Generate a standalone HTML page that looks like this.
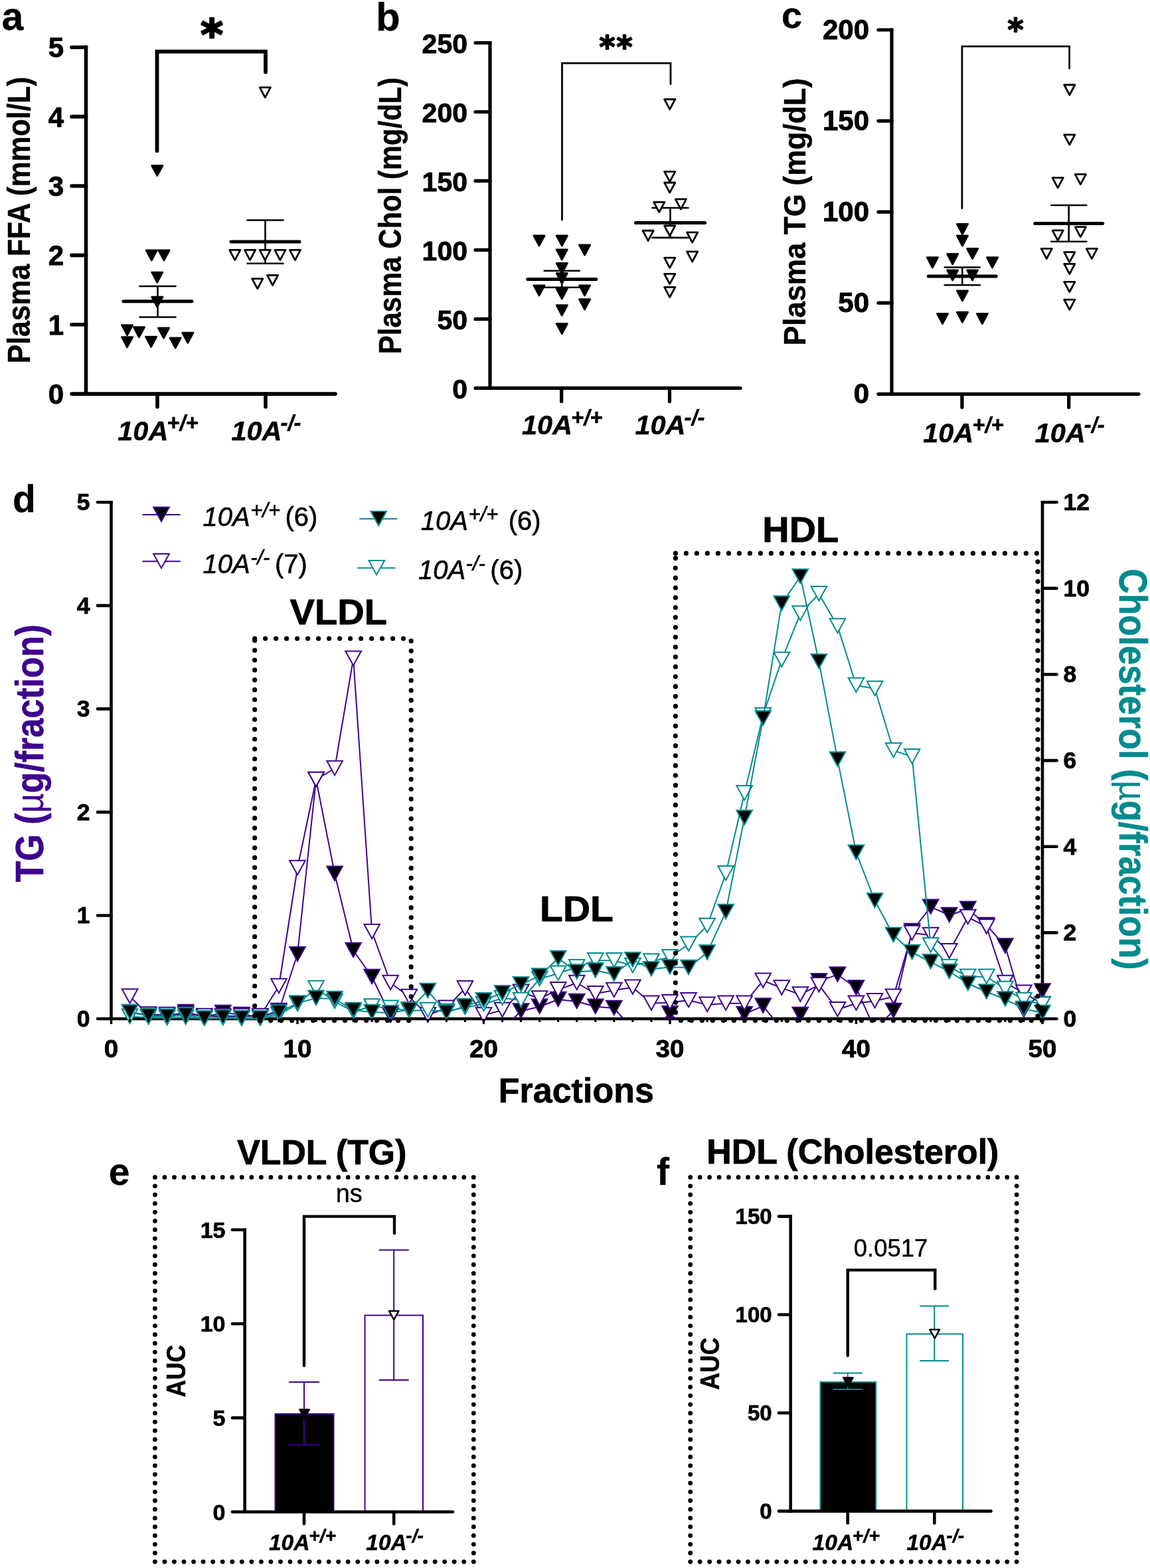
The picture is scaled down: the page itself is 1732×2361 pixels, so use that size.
<!DOCTYPE html>
<html lang="en">
<head>
<meta charset="utf-8">
<title>Figure: plasma lipids and lipoprotein fractions</title>
<style>
html,body{margin:0;padding:0;background:#fff;}
body{width:1732px;height:2361px;overflow:hidden;}
svg{display:block;font-family:"Liberation Sans",sans-serif;}
</style>
</head>
<body>
<svg width="1732" height="2361" viewBox="0 0 1732 2361">
<rect x="0" y="0" width="1732" height="2361" fill="#fff"/>
<g id="panel-a">
<line x1="129.5" y1="68.5" x2="129.5" y2="595.9" stroke="#000" stroke-width="5.6" stroke-linecap="butt" />
<line x1="108" y1="593.1" x2="505" y2="593.1" stroke="#000" stroke-width="5.6" stroke-linecap="round" />
<text x="96" y="608.14" font-size="42" font-weight="bold" font-style="normal" text-anchor="end" fill="#000" stroke="#000" stroke-width="0.9" stroke-linejoin="round" >0</text>
<line x1="108" y1="488.74" x2="129.5" y2="488.74" stroke="#000" stroke-width="5.6" stroke-linecap="round" />
<text x="96" y="503.78" font-size="42" font-weight="bold" font-style="normal" text-anchor="end" fill="#000" stroke="#000" stroke-width="0.9" stroke-linejoin="round" >1</text>
<line x1="108" y1="384.38" x2="129.5" y2="384.38" stroke="#000" stroke-width="5.6" stroke-linecap="round" />
<text x="96" y="399.42" font-size="42" font-weight="bold" font-style="normal" text-anchor="end" fill="#000" stroke="#000" stroke-width="0.9" stroke-linejoin="round" >2</text>
<line x1="108" y1="280.02" x2="129.5" y2="280.02" stroke="#000" stroke-width="5.6" stroke-linecap="round" />
<text x="96" y="295.06" font-size="42" font-weight="bold" font-style="normal" text-anchor="end" fill="#000" stroke="#000" stroke-width="0.9" stroke-linejoin="round" >3</text>
<line x1="108" y1="175.66" x2="129.5" y2="175.66" stroke="#000" stroke-width="5.6" stroke-linecap="round" />
<text x="96" y="190.7" font-size="42" font-weight="bold" font-style="normal" text-anchor="end" fill="#000" stroke="#000" stroke-width="0.9" stroke-linejoin="round" >4</text>
<line x1="108" y1="71.3" x2="129.5" y2="71.3" stroke="#000" stroke-width="5.6" stroke-linecap="round" />
<text x="96" y="86.34" font-size="42" font-weight="bold" font-style="normal" text-anchor="end" fill="#000" stroke="#000" stroke-width="0.9" stroke-linejoin="round" >5</text>
<line x1="237" y1="593.1" x2="237" y2="612.6" stroke="#000" stroke-width="5.6" stroke-linecap="round" />
<line x1="400" y1="593.1" x2="400" y2="612.6" stroke="#000" stroke-width="5.6" stroke-linecap="round" />
<text x="238" y="663" font-size="41.5" font-weight="bold" font-style="italic" text-anchor="middle" fill="#000" stroke="#000" stroke-width="0.5" stroke-linejoin="round">10A<tspan font-size="32.79" dx="-2" dy="-14.52">+/+</tspan></text>
<text x="401" y="663" font-size="41.5" font-weight="bold" font-style="italic" text-anchor="middle" fill="#000" stroke="#000" stroke-width="0.5" stroke-linejoin="round">10A<tspan font-size="32.79" dx="-2" dy="-14.52">-/-</tspan></text>
<text transform="translate(45.4 331.3) rotate(-90) scale(0.87 1)" font-size="49" font-weight="bold" font-style="normal" text-anchor="middle" fill="#000" stroke="#000" stroke-width="0.4" stroke-linejoin="round" >Plasma FFA (mmol/L)</text>
<text x="2.5" y="44.5" font-size="59" font-weight="bold" font-style="normal" text-anchor="start" fill="#000" stroke="#000" stroke-width="0.3" stroke-linejoin="round" >a</text>
<line x1="237.5" y1="431" x2="237.5" y2="477.5" stroke="#000" stroke-width="2.6" stroke-linecap="butt" />
<line x1="210.5" y1="431" x2="264.5" y2="431" stroke="#000" stroke-width="2.6" stroke-linecap="round" />
<line x1="210.5" y1="477.5" x2="264.5" y2="477.5" stroke="#000" stroke-width="2.6" stroke-linecap="round" />
<line x1="399.5" y1="331.5" x2="399.5" y2="396.7" stroke="#000" stroke-width="2.6" stroke-linecap="butt" />
<line x1="372.5" y1="331.5" x2="426.5" y2="331.5" stroke="#000" stroke-width="2.6" stroke-linecap="round" />
<line x1="372.5" y1="396.7" x2="426.5" y2="396.7" stroke="#000" stroke-width="2.6" stroke-linecap="round" />
<path d="M220.13 376.84L236.53 376.84L228.33 392.24Z" fill="#000" stroke="#000" stroke-width="2.6" stroke-linejoin="round"/>
<path d="M238.77 376.84L255.17 376.84L246.97 392.24Z" fill="#000" stroke="#000" stroke-width="2.6" stroke-linejoin="round"/>
<path d="M228.6 410.01L245 410.01L236.8 425.41Z" fill="#000" stroke="#000" stroke-width="2.6" stroke-linejoin="round"/>
<path d="M228.6 447.05L245 447.05L236.8 462.45Z" fill="#000" stroke="#000" stroke-width="2.6" stroke-linejoin="round"/>
<path d="M183.33 489.43L199.73 489.43L191.53 504.83Z" fill="#000" stroke="#000" stroke-width="2.6" stroke-linejoin="round"/>
<path d="M201.24 492.57L217.64 492.57L209.44 507.97Z" fill="#000" stroke="#000" stroke-width="2.6" stroke-linejoin="round"/>
<path d="M238.29 493.78L254.69 493.78L246.49 509.18Z" fill="#000" stroke="#000" stroke-width="2.6" stroke-linejoin="round"/>
<path d="M219.4 507.1L235.8 507.1L227.6 522.5Z" fill="#000" stroke="#000" stroke-width="2.6" stroke-linejoin="round"/>
<path d="M183.33 507.59L199.73 507.59L191.53 522.99Z" fill="#000" stroke="#000" stroke-width="2.6" stroke-linejoin="round"/>
<path d="M255.96 508.8L272.36 508.8L264.16 524.2Z" fill="#000" stroke="#000" stroke-width="2.6" stroke-linejoin="round"/>
<path d="M274.61 501.05L291.01 501.05L282.81 516.45Z" fill="#000" stroke="#000" stroke-width="2.6" stroke-linejoin="round"/>
<path d="M228.6 249.3L245 249.3L236.8 264.7Z" fill="#000" stroke="#000" stroke-width="2.6" stroke-linejoin="round"/>
<path d="M345.7 376.4L361.9 376.4L353.8 391.6Z" fill="#fff" stroke="#000" stroke-width="2.8" stroke-linejoin="round"/>
<path d="M368.4 376.4L384.6 376.4L376.5 391.6Z" fill="#fff" stroke="#000" stroke-width="2.8" stroke-linejoin="round"/>
<path d="M391.1 376.4L407.3 376.4L399.2 391.6Z" fill="#fff" stroke="#000" stroke-width="2.8" stroke-linejoin="round"/>
<path d="M413.8 376.4L430 376.4L421.9 391.6Z" fill="#fff" stroke="#000" stroke-width="2.8" stroke-linejoin="round"/>
<path d="M436.3 376.4L452.5 376.4L444.4 391.6Z" fill="#fff" stroke="#000" stroke-width="2.8" stroke-linejoin="round"/>
<path d="M379.7 419.6L395.9 419.6L387.8 434.8Z" fill="#fff" stroke="#000" stroke-width="2.8" stroke-linejoin="round"/>
<path d="M402.5 414.3L418.7 414.3L410.6 429.5Z" fill="#fff" stroke="#000" stroke-width="2.8" stroke-linejoin="round"/>
<path d="M391.2 131.7L407.4 131.7L399.3 146.9Z" fill="#fff" stroke="#000" stroke-width="2.8" stroke-linejoin="round"/>
<line x1="186" y1="453.8" x2="289" y2="453.8" stroke="#000" stroke-width="5" stroke-linecap="round" />
<line x1="348" y1="364" x2="451" y2="364" stroke="#000" stroke-width="5" stroke-linecap="round" />
<path d="M236.5 227L236.5 77.7L400 77.7L400 108.5" fill="none" stroke="#000" stroke-width="5.8" stroke-linecap="round" stroke-linejoin="miter"/>
<text x="319" y="74.5" font-size="64.5" font-weight="bold" font-style="normal" text-anchor="middle" fill="#000" stroke="#000" stroke-width="2.6" stroke-linejoin="round" font-family="'DejaVu Sans','Liberation Sans',sans-serif" letter-spacing="0">*</text>
</g>
<g id="panel-b">
<line x1="738" y1="61.9" x2="738" y2="587" stroke="#000" stroke-width="5.2" stroke-linecap="butt" />
<line x1="716" y1="584.4" x2="1115" y2="584.4" stroke="#000" stroke-width="5.2" stroke-linecap="round" />
<text x="704" y="599.88" font-size="41" font-weight="bold" font-style="normal" text-anchor="end" fill="#000" stroke="#000" stroke-width="0.9" stroke-linejoin="round" >0</text>
<line x1="716" y1="480.42" x2="738" y2="480.42" stroke="#000" stroke-width="5.2" stroke-linecap="round" />
<text x="704" y="495.9" font-size="41" font-weight="bold" font-style="normal" text-anchor="end" fill="#000" stroke="#000" stroke-width="0.9" stroke-linejoin="round" >50</text>
<line x1="716" y1="376.44" x2="738" y2="376.44" stroke="#000" stroke-width="5.2" stroke-linecap="round" />
<text x="704" y="391.92" font-size="41" font-weight="bold" font-style="normal" text-anchor="end" fill="#000" stroke="#000" stroke-width="0.9" stroke-linejoin="round" >100</text>
<line x1="716" y1="272.46" x2="738" y2="272.46" stroke="#000" stroke-width="5.2" stroke-linecap="round" />
<text x="704" y="287.94" font-size="41" font-weight="bold" font-style="normal" text-anchor="end" fill="#000" stroke="#000" stroke-width="0.9" stroke-linejoin="round" >150</text>
<line x1="716" y1="168.48" x2="738" y2="168.48" stroke="#000" stroke-width="5.2" stroke-linecap="round" />
<text x="704" y="183.96" font-size="41" font-weight="bold" font-style="normal" text-anchor="end" fill="#000" stroke="#000" stroke-width="0.9" stroke-linejoin="round" >200</text>
<line x1="716" y1="64.5" x2="738" y2="64.5" stroke="#000" stroke-width="5.2" stroke-linecap="round" />
<text x="704" y="79.98" font-size="41" font-weight="bold" font-style="normal" text-anchor="end" fill="#000" stroke="#000" stroke-width="0.9" stroke-linejoin="round" >250</text>
<line x1="845.7" y1="584.4" x2="845.7" y2="604.4" stroke="#000" stroke-width="5.2" stroke-linecap="round" />
<line x1="1008.5" y1="584.4" x2="1008.5" y2="604.4" stroke="#000" stroke-width="5.2" stroke-linecap="round" />
<text x="846.7" y="654.2" font-size="41.5" font-weight="bold" font-style="italic" text-anchor="middle" fill="#000" stroke="#000" stroke-width="0.5" stroke-linejoin="round">10A<tspan font-size="32.79" dx="-2" dy="-14.52">+/+</tspan></text>
<text x="1009" y="654.2" font-size="41.5" font-weight="bold" font-style="italic" text-anchor="middle" fill="#000" stroke="#000" stroke-width="0.5" stroke-linejoin="round">10A<tspan font-size="32.79" dx="-2" dy="-14.52">-/-</tspan></text>
<text transform="translate(603.5 324.9) rotate(-90) scale(0.88 1)" font-size="47.6" font-weight="bold" font-style="normal" text-anchor="middle" fill="#000" stroke="#000" stroke-width="0.4" stroke-linejoin="round" >Plasma Chol (mg/dL)</text>
<text x="566" y="46" font-size="60" font-weight="bold" font-style="normal" text-anchor="start" fill="#000" stroke="#000" stroke-width="0.3" stroke-linejoin="round" >b</text>
<line x1="846.2" y1="407.8" x2="846.2" y2="432.8" stroke="#000" stroke-width="2.6" stroke-linecap="butt" />
<line x1="819.7" y1="407.8" x2="872.7" y2="407.8" stroke="#000" stroke-width="2.6" stroke-linecap="round" />
<line x1="819.7" y1="432.8" x2="872.7" y2="432.8" stroke="#000" stroke-width="2.6" stroke-linecap="round" />
<line x1="1009.5" y1="313" x2="1009.5" y2="357.9" stroke="#000" stroke-width="2.6" stroke-linecap="butt" />
<line x1="982.5" y1="313" x2="1036.5" y2="313" stroke="#000" stroke-width="2.6" stroke-linecap="round" />
<line x1="982.5" y1="357.9" x2="1036.5" y2="357.9" stroke="#000" stroke-width="2.6" stroke-linecap="round" />
<path d="M803.8 354.79L820.2 354.79L812 370.19Z" fill="#000" stroke="#000" stroke-width="2.6" stroke-linejoin="round"/>
<path d="M838.08 354.79L854.48 354.79L846.28 370.19Z" fill="#000" stroke="#000" stroke-width="2.6" stroke-linejoin="round"/>
<path d="M872.37 368.77L888.77 368.77L880.57 384.17Z" fill="#000" stroke="#000" stroke-width="2.6" stroke-linejoin="round"/>
<path d="M838.08 375.76L854.48 375.76L846.28 391.16Z" fill="#000" stroke="#000" stroke-width="2.6" stroke-linejoin="round"/>
<path d="M838.08 396.4L854.48 396.4L846.28 411.8Z" fill="#000" stroke="#000" stroke-width="2.6" stroke-linejoin="round"/>
<path d="M838.08 411.38L854.48 411.38L846.28 426.78Z" fill="#000" stroke="#000" stroke-width="2.6" stroke-linejoin="round"/>
<path d="M803.8 429.69L820.2 429.69L812 445.09Z" fill="#000" stroke="#000" stroke-width="2.6" stroke-linejoin="round"/>
<path d="M838.08 434.68L854.48 434.68L846.28 450.08Z" fill="#000" stroke="#000" stroke-width="2.6" stroke-linejoin="round"/>
<path d="M872.37 429.69L888.77 429.69L880.57 445.09Z" fill="#000" stroke="#000" stroke-width="2.6" stroke-linejoin="round"/>
<path d="M872.37 450.66L888.77 450.66L880.57 466.06Z" fill="#000" stroke="#000" stroke-width="2.6" stroke-linejoin="round"/>
<path d="M838.08 459.65L854.48 459.65L846.28 475.05Z" fill="#000" stroke="#000" stroke-width="2.6" stroke-linejoin="round"/>
<path d="M838.08 487.28L854.48 487.28L846.28 502.68Z" fill="#000" stroke="#000" stroke-width="2.6" stroke-linejoin="round"/>
<path d="M1000.64 149.49L1016.84 149.49L1008.74 164.69Z" fill="#fff" stroke="#000" stroke-width="2.8" stroke-linejoin="round"/>
<path d="M1000.64 258.35L1016.84 258.35L1008.74 273.55Z" fill="#fff" stroke="#000" stroke-width="2.8" stroke-linejoin="round"/>
<path d="M1000.64 274.99L1016.84 274.99L1008.74 290.19Z" fill="#fff" stroke="#000" stroke-width="2.8" stroke-linejoin="round"/>
<path d="M984.66 304.29L1000.86 304.29L992.76 319.49Z" fill="#fff" stroke="#000" stroke-width="2.8" stroke-linejoin="round"/>
<path d="M1017.28 299.96L1033.48 299.96L1025.38 315.16Z" fill="#fff" stroke="#000" stroke-width="2.8" stroke-linejoin="round"/>
<path d="M968.01 347.23L984.21 347.23L976.11 362.43Z" fill="#fff" stroke="#000" stroke-width="2.8" stroke-linejoin="round"/>
<path d="M1000.64 339.91L1016.84 339.91L1008.74 355.11Z" fill="#fff" stroke="#000" stroke-width="2.8" stroke-linejoin="round"/>
<path d="M1034.59 349.89L1050.79 349.89L1042.69 365.09Z" fill="#fff" stroke="#000" stroke-width="2.8" stroke-linejoin="round"/>
<path d="M1034.59 378.85L1050.79 378.85L1042.69 394.05Z" fill="#fff" stroke="#000" stroke-width="2.8" stroke-linejoin="round"/>
<path d="M1000.64 388.17L1016.84 388.17L1008.74 403.37Z" fill="#fff" stroke="#000" stroke-width="2.8" stroke-linejoin="round"/>
<path d="M1000.64 412.47L1016.84 412.47L1008.74 427.67Z" fill="#fff" stroke="#000" stroke-width="2.8" stroke-linejoin="round"/>
<path d="M1000.64 432.45L1016.84 432.45L1008.74 447.65Z" fill="#fff" stroke="#000" stroke-width="2.8" stroke-linejoin="round"/>
<line x1="794.7" y1="420.6" x2="897.7" y2="420.6" stroke="#000" stroke-width="5" stroke-linecap="round" />
<line x1="957.5" y1="335.5" x2="1061.5" y2="335.5" stroke="#000" stroke-width="5" stroke-linecap="round" />
<path d="M846.5 331L846.5 95.2L1010 95.2L1010 126.5" fill="none" stroke="#000" stroke-width="2.8" stroke-linecap="round" stroke-linejoin="miter"/>
<text x="928.4" y="86.6" font-size="46" font-weight="bold" font-style="normal" text-anchor="middle" fill="#000" stroke="#000" stroke-width="1.8" stroke-linejoin="round" font-family="'DejaVu Sans','Liberation Sans',sans-serif" letter-spacing="1.8">**</text>
</g>
<g id="panel-c">
<line x1="1343" y1="42.4" x2="1343" y2="595.9" stroke="#000" stroke-width="5.2" stroke-linecap="butt" />
<line x1="1323" y1="593.3" x2="1715" y2="593.3" stroke="#000" stroke-width="5.2" stroke-linecap="round" />
<text x="1309" y="606.84" font-size="42" font-weight="bold" font-style="normal" text-anchor="end" fill="#000" stroke="#000" stroke-width="0.9" stroke-linejoin="round" >0</text>
<line x1="1323" y1="456.22" x2="1343" y2="456.22" stroke="#000" stroke-width="5.2" stroke-linecap="round" />
<text x="1309" y="469.76" font-size="42" font-weight="bold" font-style="normal" text-anchor="end" fill="#000" stroke="#000" stroke-width="0.9" stroke-linejoin="round" >50</text>
<line x1="1323" y1="319.15" x2="1343" y2="319.15" stroke="#000" stroke-width="5.2" stroke-linecap="round" />
<text x="1309" y="332.69" font-size="42" font-weight="bold" font-style="normal" text-anchor="end" fill="#000" stroke="#000" stroke-width="0.9" stroke-linejoin="round" >100</text>
<line x1="1323" y1="182.07" x2="1343" y2="182.07" stroke="#000" stroke-width="5.2" stroke-linecap="round" />
<text x="1309" y="195.61" font-size="42" font-weight="bold" font-style="normal" text-anchor="end" fill="#000" stroke="#000" stroke-width="0.9" stroke-linejoin="round" >150</text>
<line x1="1323" y1="45" x2="1343" y2="45" stroke="#000" stroke-width="5.2" stroke-linecap="round" />
<text x="1309" y="58.54" font-size="42" font-weight="bold" font-style="normal" text-anchor="end" fill="#000" stroke="#000" stroke-width="0.9" stroke-linejoin="round" >200</text>
<line x1="1448.9" y1="593.3" x2="1448.9" y2="613.3" stroke="#000" stroke-width="5.2" stroke-linecap="round" />
<line x1="1609.7" y1="593.3" x2="1609.7" y2="613.3" stroke="#000" stroke-width="5.2" stroke-linecap="round" />
<text x="1450.9" y="666" font-size="41.5" font-weight="bold" font-style="italic" text-anchor="middle" fill="#000" stroke="#000" stroke-width="0.5" stroke-linejoin="round">10A<tspan font-size="32.79" dx="-2" dy="-14.52">+/+</tspan></text>
<text x="1611.2" y="666" font-size="41.5" font-weight="bold" font-style="italic" text-anchor="middle" fill="#000" stroke="#000" stroke-width="0.5" stroke-linejoin="round">10A<tspan font-size="32.79" dx="-2" dy="-14.52">-/-</tspan></text>
<text transform="translate(1212.9 318.9) rotate(-90) scale(0.94 1)" font-size="47" font-weight="bold" font-style="normal" text-anchor="middle" fill="#000" stroke="#000" stroke-width="0.4" stroke-linejoin="round" >Plasma TG (mg/dL)</text>
<text x="1177" y="42" font-size="56" font-weight="bold" font-style="normal" text-anchor="start" fill="#000" stroke="#000" stroke-width="0.3" stroke-linejoin="round" >c</text>
<line x1="1449.3" y1="402.5" x2="1449.3" y2="429.2" stroke="#000" stroke-width="2.6" stroke-linecap="butt" />
<line x1="1422.8" y1="402.5" x2="1475.8" y2="402.5" stroke="#000" stroke-width="2.6" stroke-linecap="round" />
<line x1="1422.8" y1="429.2" x2="1475.8" y2="429.2" stroke="#000" stroke-width="2.6" stroke-linecap="round" />
<line x1="1609.7" y1="309" x2="1609.7" y2="363.8" stroke="#000" stroke-width="2.6" stroke-linecap="butt" />
<line x1="1583.2" y1="309" x2="1636.2" y2="309" stroke="#000" stroke-width="2.6" stroke-linecap="round" />
<line x1="1583.2" y1="363.8" x2="1636.2" y2="363.8" stroke="#000" stroke-width="2.6" stroke-linecap="round" />
<path d="M1441.25 337.29L1457.65 337.29L1449.45 352.69Z" fill="#000" stroke="#000" stroke-width="2.6" stroke-linejoin="round"/>
<path d="M1441.25 354.91L1457.65 354.91L1449.45 370.31Z" fill="#000" stroke="#000" stroke-width="2.6" stroke-linejoin="round"/>
<path d="M1456.4 374.28L1472.8 374.28L1464.6 389.68Z" fill="#000" stroke="#000" stroke-width="2.6" stroke-linejoin="round"/>
<path d="M1396.16 387.67L1412.56 387.67L1404.36 403.07Z" fill="#000" stroke="#000" stroke-width="2.6" stroke-linejoin="round"/>
<path d="M1426.46 382.39L1442.86 382.39L1434.66 397.79Z" fill="#000" stroke="#000" stroke-width="2.6" stroke-linejoin="round"/>
<path d="M1486.35 387.67L1502.75 387.67L1494.55 403.07Z" fill="#000" stroke="#000" stroke-width="2.6" stroke-linejoin="round"/>
<path d="M1426.46 406.69L1442.86 406.69L1434.66 422.09Z" fill="#000" stroke="#000" stroke-width="2.6" stroke-linejoin="round"/>
<path d="M1456.4 406.69L1472.8 406.69L1464.6 422.09Z" fill="#000" stroke="#000" stroke-width="2.6" stroke-linejoin="round"/>
<path d="M1441.25 437.7L1457.65 437.7L1449.45 453.1Z" fill="#000" stroke="#000" stroke-width="2.6" stroke-linejoin="round"/>
<path d="M1411.31 472.22L1427.71 472.22L1419.51 487.62Z" fill="#000" stroke="#000" stroke-width="2.6" stroke-linejoin="round"/>
<path d="M1441.25 470.11L1457.65 470.11L1449.45 485.51Z" fill="#000" stroke="#000" stroke-width="2.6" stroke-linejoin="round"/>
<path d="M1471.2 472.22L1487.6 472.22L1479.4 487.62Z" fill="#000" stroke="#000" stroke-width="2.6" stroke-linejoin="round"/>
<path d="M1602.71 127.77L1618.91 127.77L1610.81 142.97Z" fill="#fff" stroke="#000" stroke-width="2.8" stroke-linejoin="round"/>
<path d="M1602.71 202.81L1618.91 202.81L1610.81 218.01Z" fill="#fff" stroke="#000" stroke-width="2.8" stroke-linejoin="round"/>
<path d="M1585.09 267.64L1601.29 267.64L1593.19 282.84Z" fill="#fff" stroke="#000" stroke-width="2.8" stroke-linejoin="round"/>
<path d="M1619.26 262.35L1635.46 262.35L1627.36 277.55Z" fill="#fff" stroke="#000" stroke-width="2.8" stroke-linejoin="round"/>
<path d="M1585.09 346.9L1601.29 346.9L1593.19 362.1Z" fill="#fff" stroke="#000" stroke-width="2.8" stroke-linejoin="round"/>
<path d="M1619.26 341.62L1635.46 341.62L1627.36 356.82Z" fill="#fff" stroke="#000" stroke-width="2.8" stroke-linejoin="round"/>
<path d="M1568.18 374.38L1584.38 374.38L1576.28 389.58Z" fill="#fff" stroke="#000" stroke-width="2.8" stroke-linejoin="round"/>
<path d="M1602.71 379.67L1618.91 379.67L1610.81 394.87Z" fill="#fff" stroke="#000" stroke-width="2.8" stroke-linejoin="round"/>
<path d="M1636.18 374.38L1652.38 374.38L1644.28 389.58Z" fill="#fff" stroke="#000" stroke-width="2.8" stroke-linejoin="round"/>
<path d="M1602.71 397.28L1618.91 397.28L1610.81 412.48Z" fill="#fff" stroke="#000" stroke-width="2.8" stroke-linejoin="round"/>
<path d="M1602.71 424.41L1618.91 424.41L1610.81 439.61Z" fill="#fff" stroke="#000" stroke-width="2.8" stroke-linejoin="round"/>
<path d="M1602.71 451.18L1618.91 451.18L1610.81 466.38Z" fill="#fff" stroke="#000" stroke-width="2.8" stroke-linejoin="round"/>
<line x1="1398.3" y1="416" x2="1500.3" y2="416" stroke="#000" stroke-width="5" stroke-linecap="round" />
<line x1="1558.7" y1="336.4" x2="1660.7" y2="336.4" stroke="#000" stroke-width="5" stroke-linecap="round" />
<path d="M1448.9 313.5L1448.9 69.8L1610.6 69.8L1610.6 103" fill="none" stroke="#000" stroke-width="2.8" stroke-linecap="round" stroke-linejoin="miter"/>
<text x="1529.5" y="60.8" font-size="46" font-weight="bold" font-style="normal" text-anchor="middle" fill="#000" stroke="#000" stroke-width="1.8" stroke-linejoin="round" font-family="'DejaVu Sans','Liberation Sans',sans-serif" letter-spacing="0">*</text>
</g>
<g id="panel-d">
<line x1="167.5" y1="754" x2="167.5" y2="1536.3" stroke="#000" stroke-width="4.6" stroke-linecap="butt" />
<line x1="1570" y1="754" x2="1570" y2="1536.3" stroke="#000" stroke-width="4.6" stroke-linecap="butt" />
<line x1="147" y1="1534" x2="1591.5" y2="1534" stroke="#000" stroke-width="4.6" stroke-linecap="round" />
<line x1="147" y1="1378.46" x2="167.5" y2="1378.46" stroke="#000" stroke-width="4.6" stroke-linecap="round" />
<line x1="147" y1="1222.92" x2="167.5" y2="1222.92" stroke="#000" stroke-width="4.6" stroke-linecap="round" />
<line x1="147" y1="1067.38" x2="167.5" y2="1067.38" stroke="#000" stroke-width="4.6" stroke-linecap="round" />
<line x1="147" y1="911.84" x2="167.5" y2="911.84" stroke="#000" stroke-width="4.6" stroke-linecap="round" />
<line x1="147" y1="756.3" x2="167.5" y2="756.3" stroke="#000" stroke-width="4.6" stroke-linecap="round" />
<line x1="1570" y1="1404.38" x2="1591.5" y2="1404.38" stroke="#000" stroke-width="4.6" stroke-linecap="round" />
<line x1="1570" y1="1274.77" x2="1591.5" y2="1274.77" stroke="#000" stroke-width="4.6" stroke-linecap="round" />
<line x1="1570" y1="1145.15" x2="1591.5" y2="1145.15" stroke="#000" stroke-width="4.6" stroke-linecap="round" />
<line x1="1570" y1="1015.53" x2="1591.5" y2="1015.53" stroke="#000" stroke-width="4.6" stroke-linecap="round" />
<line x1="1570" y1="885.92" x2="1591.5" y2="885.92" stroke="#000" stroke-width="4.6" stroke-linecap="round" />
<line x1="1570" y1="756.3" x2="1591.5" y2="756.3" stroke="#000" stroke-width="4.6" stroke-linecap="round" />
<defs><clipPath id="plotclip"><rect x="167.5" y="736.3" width="1422.5" height="798.7"/></clipPath></defs>
<polyline points="195.55,1524 223.6,1529 251.65,1530 279.7,1524 307.75,1531 335.8,1525 363.85,1528 391.9,1531 419.95,1522 448,1437 476.05,1174 504.1,1315.7 532.15,1431 560.2,1471 588.25,1529 616.3,1550 644.35,1550 672.4,1550 700.45,1550 728.5,1550 756.55,1550 784.6,1522.5 812.65,1515.8 840.7,1505 868.75,1508 896.8,1515.8 924.85,1518 952.9,1550 980.95,1550 1009,1526.4 1037.05,1550 1065.1,1550 1093.15,1550 1121.2,1527 1149.25,1514.6 1177.3,1550 1205.35,1528 1233.4,1477.4 1261.45,1467.6 1289.5,1487.6 1317.55,1550 1345.6,1522 1373.65,1402 1401.7,1365.7 1429.75,1378 1457.8,1368.8 1485.85,1393 1513.9,1424.6 1541.95,1521 1570,1492.5" fill="none" stroke="#3d038f" stroke-width="2" stroke-linejoin="round" clip-path="url(#plotclip)"/>
<path d="M183.74 1512.7L207.36 1512.7L195.55 1534.22Z" fill="#000" stroke="#3d038f" stroke-width="2" stroke-linejoin="miter"/>
<path d="M211.79 1517.7L235.41 1517.7L223.6 1539.22Z" fill="#000" stroke="#3d038f" stroke-width="2" stroke-linejoin="miter"/>
<path d="M239.84 1518.7L263.46 1518.7L251.65 1540.22Z" fill="#000" stroke="#3d038f" stroke-width="2" stroke-linejoin="miter"/>
<path d="M267.89 1512.7L291.51 1512.7L279.7 1534.22Z" fill="#000" stroke="#3d038f" stroke-width="2" stroke-linejoin="miter"/>
<path d="M295.94 1519.7L319.56 1519.7L307.75 1541.22Z" fill="#000" stroke="#3d038f" stroke-width="2" stroke-linejoin="miter"/>
<path d="M323.99 1513.7L347.61 1513.7L335.8 1535.22Z" fill="#000" stroke="#3d038f" stroke-width="2" stroke-linejoin="miter"/>
<path d="M352.04 1516.7L375.66 1516.7L363.85 1538.22Z" fill="#000" stroke="#3d038f" stroke-width="2" stroke-linejoin="miter"/>
<path d="M380.09 1519.7L403.71 1519.7L391.9 1541.22Z" fill="#000" stroke="#3d038f" stroke-width="2" stroke-linejoin="miter"/>
<path d="M408.14 1510.7L431.76 1510.7L419.95 1532.22Z" fill="#000" stroke="#3d038f" stroke-width="2" stroke-linejoin="miter"/>
<path d="M436.19 1425.7L459.81 1425.7L448 1447.22Z" fill="#000" stroke="#3d038f" stroke-width="2" stroke-linejoin="miter"/>
<path d="M464.24 1162.7L487.86 1162.7L476.05 1184.22Z" fill="#000" stroke="#3d038f" stroke-width="2" stroke-linejoin="miter"/>
<path d="M492.29 1304.4L515.91 1304.4L504.1 1325.92Z" fill="#000" stroke="#3d038f" stroke-width="2" stroke-linejoin="miter"/>
<path d="M520.34 1419.7L543.96 1419.7L532.15 1441.22Z" fill="#000" stroke="#3d038f" stroke-width="2" stroke-linejoin="miter"/>
<path d="M548.39 1459.7L572.01 1459.7L560.2 1481.22Z" fill="#000" stroke="#3d038f" stroke-width="2" stroke-linejoin="miter"/>
<path d="M576.44 1517.7L600.06 1517.7L588.25 1539.22Z" fill="#000" stroke="#3d038f" stroke-width="2" stroke-linejoin="miter"/>
<path d="M772.79 1511.2L796.41 1511.2L784.6 1532.72Z" fill="#000" stroke="#3d038f" stroke-width="2" stroke-linejoin="miter"/>
<path d="M800.84 1504.5L824.46 1504.5L812.65 1526.02Z" fill="#000" stroke="#3d038f" stroke-width="2" stroke-linejoin="miter"/>
<path d="M828.89 1493.7L852.51 1493.7L840.7 1515.22Z" fill="#000" stroke="#3d038f" stroke-width="2" stroke-linejoin="miter"/>
<path d="M856.94 1496.7L880.56 1496.7L868.75 1518.22Z" fill="#000" stroke="#3d038f" stroke-width="2" stroke-linejoin="miter"/>
<path d="M884.99 1504.5L908.61 1504.5L896.8 1526.02Z" fill="#000" stroke="#3d038f" stroke-width="2" stroke-linejoin="miter"/>
<path d="M913.04 1506.7L936.66 1506.7L924.85 1528.22Z" fill="#000" stroke="#3d038f" stroke-width="2" stroke-linejoin="miter"/>
<path d="M997.19 1515.1L1020.81 1515.1L1009 1536.62Z" fill="#000" stroke="#3d038f" stroke-width="2" stroke-linejoin="miter"/>
<path d="M1109.39 1515.7L1133.01 1515.7L1121.2 1537.22Z" fill="#000" stroke="#3d038f" stroke-width="2" stroke-linejoin="miter"/>
<path d="M1137.44 1503.3L1161.06 1503.3L1149.25 1524.82Z" fill="#000" stroke="#3d038f" stroke-width="2" stroke-linejoin="miter"/>
<path d="M1193.54 1516.7L1217.16 1516.7L1205.35 1538.22Z" fill="#000" stroke="#3d038f" stroke-width="2" stroke-linejoin="miter"/>
<path d="M1221.59 1466.1L1245.21 1466.1L1233.4 1487.62Z" fill="#000" stroke="#3d038f" stroke-width="2" stroke-linejoin="miter"/>
<path d="M1249.64 1456.3L1273.26 1456.3L1261.45 1477.82Z" fill="#000" stroke="#3d038f" stroke-width="2" stroke-linejoin="miter"/>
<path d="M1277.69 1476.3L1301.31 1476.3L1289.5 1497.82Z" fill="#000" stroke="#3d038f" stroke-width="2" stroke-linejoin="miter"/>
<path d="M1333.79 1510.7L1357.41 1510.7L1345.6 1532.22Z" fill="#000" stroke="#3d038f" stroke-width="2" stroke-linejoin="miter"/>
<path d="M1361.84 1390.7L1385.46 1390.7L1373.65 1412.22Z" fill="#000" stroke="#3d038f" stroke-width="2" stroke-linejoin="miter"/>
<path d="M1389.89 1354.4L1413.51 1354.4L1401.7 1375.92Z" fill="#000" stroke="#3d038f" stroke-width="2" stroke-linejoin="miter"/>
<path d="M1417.94 1366.7L1441.56 1366.7L1429.75 1388.22Z" fill="#000" stroke="#3d038f" stroke-width="2" stroke-linejoin="miter"/>
<path d="M1445.99 1357.5L1469.61 1357.5L1457.8 1379.02Z" fill="#000" stroke="#3d038f" stroke-width="2" stroke-linejoin="miter"/>
<path d="M1474.04 1381.7L1497.66 1381.7L1485.85 1403.22Z" fill="#000" stroke="#3d038f" stroke-width="2" stroke-linejoin="miter"/>
<path d="M1502.09 1413.3L1525.71 1413.3L1513.9 1434.82Z" fill="#000" stroke="#3d038f" stroke-width="2" stroke-linejoin="miter"/>
<path d="M1530.14 1509.7L1553.76 1509.7L1541.95 1531.22Z" fill="#000" stroke="#3d038f" stroke-width="2" stroke-linejoin="miter"/>
<path d="M1558.19 1481.2L1581.81 1481.2L1570 1502.72Z" fill="#000" stroke="#3d038f" stroke-width="2" stroke-linejoin="miter"/>
<polyline points="195.55,1500.5 223.6,1527.5 251.65,1528 279.7,1527 307.75,1530 335.8,1530 363.85,1530 391.9,1530 419.95,1485 448,1307 476.05,1174 504.1,1157 532.15,991.8 560.2,1403 588.25,1480 616.3,1501 644.35,1528.6 672.4,1517.7 700.45,1488.3 728.5,1528.6 756.55,1521 784.6,1493.7 812.65,1503.5 840.7,1490.4 868.75,1480 896.8,1496.3 924.85,1491 952.9,1486.7 980.95,1510.7 1009,1509.4 1037.05,1506.3 1065.1,1512.9 1093.15,1510.7 1121.2,1510.7 1149.25,1476.7 1177.3,1487.6 1205.35,1497.6 1233.4,1483.2 1261.45,1520.3 1289.5,1510.7 1317.55,1507.2 1345.6,1500.7 1373.65,1405 1401.7,1408 1429.75,1432.4 1457.8,1381 1485.85,1395.6 1513.9,1480 1541.95,1494.7 1570,1512" fill="none" stroke="#3d038f" stroke-width="2" stroke-linejoin="round" clip-path="url(#plotclip)"/>
<path d="M183.74 1489.2L207.36 1489.2L195.55 1510.72Z" fill="#fff" stroke="#3d038f" stroke-width="2" stroke-linejoin="miter"/>
<path d="M211.79 1516.2L235.41 1516.2L223.6 1537.72Z" fill="#fff" stroke="#3d038f" stroke-width="2" stroke-linejoin="miter"/>
<path d="M239.84 1516.7L263.46 1516.7L251.65 1538.22Z" fill="#fff" stroke="#3d038f" stroke-width="2" stroke-linejoin="miter"/>
<path d="M267.89 1515.7L291.51 1515.7L279.7 1537.22Z" fill="#fff" stroke="#3d038f" stroke-width="2" stroke-linejoin="miter"/>
<path d="M295.94 1518.7L319.56 1518.7L307.75 1540.22Z" fill="#fff" stroke="#3d038f" stroke-width="2" stroke-linejoin="miter"/>
<path d="M323.99 1518.7L347.61 1518.7L335.8 1540.22Z" fill="#fff" stroke="#3d038f" stroke-width="2" stroke-linejoin="miter"/>
<path d="M352.04 1518.7L375.66 1518.7L363.85 1540.22Z" fill="#fff" stroke="#3d038f" stroke-width="2" stroke-linejoin="miter"/>
<path d="M380.09 1518.7L403.71 1518.7L391.9 1540.22Z" fill="#fff" stroke="#3d038f" stroke-width="2" stroke-linejoin="miter"/>
<path d="M408.14 1473.7L431.76 1473.7L419.95 1495.22Z" fill="#fff" stroke="#3d038f" stroke-width="2" stroke-linejoin="miter"/>
<path d="M436.19 1295.7L459.81 1295.7L448 1317.22Z" fill="#fff" stroke="#3d038f" stroke-width="2" stroke-linejoin="miter"/>
<path d="M464.24 1162.7L487.86 1162.7L476.05 1184.22Z" fill="#fff" stroke="#3d038f" stroke-width="2" stroke-linejoin="miter"/>
<path d="M492.29 1145.7L515.91 1145.7L504.1 1167.22Z" fill="#fff" stroke="#3d038f" stroke-width="2" stroke-linejoin="miter"/>
<path d="M520.34 980.5L543.96 980.5L532.15 1002.02Z" fill="#fff" stroke="#3d038f" stroke-width="2" stroke-linejoin="miter"/>
<path d="M548.39 1391.7L572.01 1391.7L560.2 1413.22Z" fill="#fff" stroke="#3d038f" stroke-width="2" stroke-linejoin="miter"/>
<path d="M576.44 1468.7L600.06 1468.7L588.25 1490.22Z" fill="#fff" stroke="#3d038f" stroke-width="2" stroke-linejoin="miter"/>
<path d="M604.49 1489.7L628.11 1489.7L616.3 1511.22Z" fill="#fff" stroke="#3d038f" stroke-width="2" stroke-linejoin="miter"/>
<path d="M632.54 1517.3L656.16 1517.3L644.35 1538.82Z" fill="#fff" stroke="#3d038f" stroke-width="2" stroke-linejoin="miter"/>
<path d="M660.59 1506.4L684.21 1506.4L672.4 1527.92Z" fill="#fff" stroke="#3d038f" stroke-width="2" stroke-linejoin="miter"/>
<path d="M688.64 1477L712.26 1477L700.45 1498.52Z" fill="#fff" stroke="#3d038f" stroke-width="2" stroke-linejoin="miter"/>
<path d="M716.69 1517.3L740.31 1517.3L728.5 1538.82Z" fill="#fff" stroke="#3d038f" stroke-width="2" stroke-linejoin="miter"/>
<path d="M744.74 1509.7L768.36 1509.7L756.55 1531.22Z" fill="#fff" stroke="#3d038f" stroke-width="2" stroke-linejoin="miter"/>
<path d="M772.79 1482.4L796.41 1482.4L784.6 1503.92Z" fill="#fff" stroke="#3d038f" stroke-width="2" stroke-linejoin="miter"/>
<path d="M800.84 1492.2L824.46 1492.2L812.65 1513.72Z" fill="#fff" stroke="#3d038f" stroke-width="2" stroke-linejoin="miter"/>
<path d="M828.89 1479.1L852.51 1479.1L840.7 1500.62Z" fill="#fff" stroke="#3d038f" stroke-width="2" stroke-linejoin="miter"/>
<path d="M856.94 1468.7L880.56 1468.7L868.75 1490.22Z" fill="#fff" stroke="#3d038f" stroke-width="2" stroke-linejoin="miter"/>
<path d="M884.99 1485L908.61 1485L896.8 1506.52Z" fill="#fff" stroke="#3d038f" stroke-width="2" stroke-linejoin="miter"/>
<path d="M913.04 1479.7L936.66 1479.7L924.85 1501.22Z" fill="#fff" stroke="#3d038f" stroke-width="2" stroke-linejoin="miter"/>
<path d="M941.09 1475.4L964.71 1475.4L952.9 1496.92Z" fill="#fff" stroke="#3d038f" stroke-width="2" stroke-linejoin="miter"/>
<path d="M969.14 1499.4L992.76 1499.4L980.95 1520.92Z" fill="#fff" stroke="#3d038f" stroke-width="2" stroke-linejoin="miter"/>
<path d="M997.19 1498.1L1020.81 1498.1L1009 1519.62Z" fill="#fff" stroke="#3d038f" stroke-width="2" stroke-linejoin="miter"/>
<path d="M1025.24 1495L1048.86 1495L1037.05 1516.52Z" fill="#fff" stroke="#3d038f" stroke-width="2" stroke-linejoin="miter"/>
<path d="M1053.29 1501.6L1076.91 1501.6L1065.1 1523.12Z" fill="#fff" stroke="#3d038f" stroke-width="2" stroke-linejoin="miter"/>
<path d="M1081.34 1499.4L1104.96 1499.4L1093.15 1520.92Z" fill="#fff" stroke="#3d038f" stroke-width="2" stroke-linejoin="miter"/>
<path d="M1109.39 1499.4L1133.01 1499.4L1121.2 1520.92Z" fill="#fff" stroke="#3d038f" stroke-width="2" stroke-linejoin="miter"/>
<path d="M1137.44 1465.4L1161.06 1465.4L1149.25 1486.92Z" fill="#fff" stroke="#3d038f" stroke-width="2" stroke-linejoin="miter"/>
<path d="M1165.49 1476.3L1189.11 1476.3L1177.3 1497.82Z" fill="#fff" stroke="#3d038f" stroke-width="2" stroke-linejoin="miter"/>
<path d="M1193.54 1486.3L1217.16 1486.3L1205.35 1507.82Z" fill="#fff" stroke="#3d038f" stroke-width="2" stroke-linejoin="miter"/>
<path d="M1221.59 1471.9L1245.21 1471.9L1233.4 1493.42Z" fill="#fff" stroke="#3d038f" stroke-width="2" stroke-linejoin="miter"/>
<path d="M1249.64 1509L1273.26 1509L1261.45 1530.52Z" fill="#fff" stroke="#3d038f" stroke-width="2" stroke-linejoin="miter"/>
<path d="M1277.69 1499.4L1301.31 1499.4L1289.5 1520.92Z" fill="#fff" stroke="#3d038f" stroke-width="2" stroke-linejoin="miter"/>
<path d="M1305.74 1495.9L1329.36 1495.9L1317.55 1517.42Z" fill="#fff" stroke="#3d038f" stroke-width="2" stroke-linejoin="miter"/>
<path d="M1333.79 1489.4L1357.41 1489.4L1345.6 1510.92Z" fill="#fff" stroke="#3d038f" stroke-width="2" stroke-linejoin="miter"/>
<path d="M1361.84 1393.7L1385.46 1393.7L1373.65 1415.22Z" fill="#fff" stroke="#3d038f" stroke-width="2" stroke-linejoin="miter"/>
<path d="M1389.89 1396.7L1413.51 1396.7L1401.7 1418.22Z" fill="#fff" stroke="#3d038f" stroke-width="2" stroke-linejoin="miter"/>
<path d="M1417.94 1421.1L1441.56 1421.1L1429.75 1442.62Z" fill="#fff" stroke="#3d038f" stroke-width="2" stroke-linejoin="miter"/>
<path d="M1445.99 1369.7L1469.61 1369.7L1457.8 1391.22Z" fill="#fff" stroke="#3d038f" stroke-width="2" stroke-linejoin="miter"/>
<path d="M1474.04 1384.3L1497.66 1384.3L1485.85 1405.82Z" fill="#fff" stroke="#3d038f" stroke-width="2" stroke-linejoin="miter"/>
<path d="M1502.09 1468.7L1525.71 1468.7L1513.9 1490.22Z" fill="#fff" stroke="#3d038f" stroke-width="2" stroke-linejoin="miter"/>
<path d="M1530.14 1483.4L1553.76 1483.4L1541.95 1504.92Z" fill="#fff" stroke="#3d038f" stroke-width="2" stroke-linejoin="miter"/>
<path d="M1558.19 1500.7L1581.81 1500.7L1570 1522.22Z" fill="#fff" stroke="#3d038f" stroke-width="2" stroke-linejoin="miter"/>
<polyline points="195.55,1530.7 223.6,1532 251.65,1533 279.7,1532 307.75,1534 335.8,1533 363.85,1534 391.9,1534 419.95,1528 448,1512 476.05,1488 504.1,1508 532.15,1523 560.2,1515.5 588.25,1517.7 616.3,1522 644.35,1521 672.4,1523 700.45,1517 728.5,1512 756.55,1503 784.6,1506 812.65,1474 840.7,1465.8 868.75,1456.2 896.8,1446.2 924.85,1446.2 952.9,1454 980.95,1447.5 1009,1441.4 1037.05,1421.8 1065.1,1394 1093.15,1315.3 1121.2,1194.4 1149.25,1077 1177.3,993.6 1205.35,923.8 1233.4,894.3 1261.45,942.8 1289.5,1032 1317.55,1037 1345.6,1130 1373.65,1139.4 1401.7,1423.5 1429.75,1456 1457.8,1470.7 1485.85,1470.7 1513.9,1489 1541.95,1506 1570,1512.5" fill="none" stroke="#008b8d" stroke-width="2" stroke-linejoin="round" clip-path="url(#plotclip)"/>
<path d="M183.74 1519.4L207.36 1519.4L195.55 1540.92Z" fill="#fff" stroke="#008b8d" stroke-width="2" stroke-linejoin="miter"/>
<path d="M211.79 1520.7L235.41 1520.7L223.6 1542.22Z" fill="#fff" stroke="#008b8d" stroke-width="2" stroke-linejoin="miter"/>
<path d="M239.84 1521.7L263.46 1521.7L251.65 1543.22Z" fill="#fff" stroke="#008b8d" stroke-width="2" stroke-linejoin="miter"/>
<path d="M267.89 1520.7L291.51 1520.7L279.7 1542.22Z" fill="#fff" stroke="#008b8d" stroke-width="2" stroke-linejoin="miter"/>
<path d="M295.94 1522.7L319.56 1522.7L307.75 1544.22Z" fill="#fff" stroke="#008b8d" stroke-width="2" stroke-linejoin="miter"/>
<path d="M323.99 1521.7L347.61 1521.7L335.8 1543.22Z" fill="#fff" stroke="#008b8d" stroke-width="2" stroke-linejoin="miter"/>
<path d="M352.04 1522.7L375.66 1522.7L363.85 1544.22Z" fill="#fff" stroke="#008b8d" stroke-width="2" stroke-linejoin="miter"/>
<path d="M380.09 1522.7L403.71 1522.7L391.9 1544.22Z" fill="#fff" stroke="#008b8d" stroke-width="2" stroke-linejoin="miter"/>
<path d="M408.14 1516.7L431.76 1516.7L419.95 1538.22Z" fill="#fff" stroke="#008b8d" stroke-width="2" stroke-linejoin="miter"/>
<path d="M436.19 1500.7L459.81 1500.7L448 1522.22Z" fill="#fff" stroke="#008b8d" stroke-width="2" stroke-linejoin="miter"/>
<path d="M464.24 1476.7L487.86 1476.7L476.05 1498.22Z" fill="#fff" stroke="#008b8d" stroke-width="2" stroke-linejoin="miter"/>
<path d="M492.29 1496.7L515.91 1496.7L504.1 1518.22Z" fill="#fff" stroke="#008b8d" stroke-width="2" stroke-linejoin="miter"/>
<path d="M520.34 1511.7L543.96 1511.7L532.15 1533.22Z" fill="#fff" stroke="#008b8d" stroke-width="2" stroke-linejoin="miter"/>
<path d="M548.39 1504.2L572.01 1504.2L560.2 1525.72Z" fill="#fff" stroke="#008b8d" stroke-width="2" stroke-linejoin="miter"/>
<path d="M576.44 1506.4L600.06 1506.4L588.25 1527.92Z" fill="#fff" stroke="#008b8d" stroke-width="2" stroke-linejoin="miter"/>
<path d="M604.49 1510.7L628.11 1510.7L616.3 1532.22Z" fill="#fff" stroke="#008b8d" stroke-width="2" stroke-linejoin="miter"/>
<path d="M632.54 1509.7L656.16 1509.7L644.35 1531.22Z" fill="#fff" stroke="#008b8d" stroke-width="2" stroke-linejoin="miter"/>
<path d="M660.59 1511.7L684.21 1511.7L672.4 1533.22Z" fill="#fff" stroke="#008b8d" stroke-width="2" stroke-linejoin="miter"/>
<path d="M688.64 1505.7L712.26 1505.7L700.45 1527.22Z" fill="#fff" stroke="#008b8d" stroke-width="2" stroke-linejoin="miter"/>
<path d="M716.69 1500.7L740.31 1500.7L728.5 1522.22Z" fill="#fff" stroke="#008b8d" stroke-width="2" stroke-linejoin="miter"/>
<path d="M744.74 1491.7L768.36 1491.7L756.55 1513.22Z" fill="#fff" stroke="#008b8d" stroke-width="2" stroke-linejoin="miter"/>
<path d="M772.79 1494.7L796.41 1494.7L784.6 1516.22Z" fill="#fff" stroke="#008b8d" stroke-width="2" stroke-linejoin="miter"/>
<path d="M800.84 1462.7L824.46 1462.7L812.65 1484.22Z" fill="#fff" stroke="#008b8d" stroke-width="2" stroke-linejoin="miter"/>
<path d="M828.89 1454.5L852.51 1454.5L840.7 1476.02Z" fill="#fff" stroke="#008b8d" stroke-width="2" stroke-linejoin="miter"/>
<path d="M856.94 1444.9L880.56 1444.9L868.75 1466.42Z" fill="#fff" stroke="#008b8d" stroke-width="2" stroke-linejoin="miter"/>
<path d="M884.99 1434.9L908.61 1434.9L896.8 1456.42Z" fill="#fff" stroke="#008b8d" stroke-width="2" stroke-linejoin="miter"/>
<path d="M913.04 1434.9L936.66 1434.9L924.85 1456.42Z" fill="#fff" stroke="#008b8d" stroke-width="2" stroke-linejoin="miter"/>
<path d="M941.09 1442.7L964.71 1442.7L952.9 1464.22Z" fill="#fff" stroke="#008b8d" stroke-width="2" stroke-linejoin="miter"/>
<path d="M969.14 1436.2L992.76 1436.2L980.95 1457.72Z" fill="#fff" stroke="#008b8d" stroke-width="2" stroke-linejoin="miter"/>
<path d="M997.19 1430.1L1020.81 1430.1L1009 1451.62Z" fill="#fff" stroke="#008b8d" stroke-width="2" stroke-linejoin="miter"/>
<path d="M1025.24 1410.5L1048.86 1410.5L1037.05 1432.02Z" fill="#fff" stroke="#008b8d" stroke-width="2" stroke-linejoin="miter"/>
<path d="M1053.29 1382.7L1076.91 1382.7L1065.1 1404.22Z" fill="#fff" stroke="#008b8d" stroke-width="2" stroke-linejoin="miter"/>
<path d="M1081.34 1304L1104.96 1304L1093.15 1325.52Z" fill="#fff" stroke="#008b8d" stroke-width="2" stroke-linejoin="miter"/>
<path d="M1109.39 1183.1L1133.01 1183.1L1121.2 1204.62Z" fill="#fff" stroke="#008b8d" stroke-width="2" stroke-linejoin="miter"/>
<path d="M1137.44 1065.7L1161.06 1065.7L1149.25 1087.22Z" fill="#fff" stroke="#008b8d" stroke-width="2" stroke-linejoin="miter"/>
<path d="M1165.49 982.3L1189.11 982.3L1177.3 1003.82Z" fill="#fff" stroke="#008b8d" stroke-width="2" stroke-linejoin="miter"/>
<path d="M1193.54 912.5L1217.16 912.5L1205.35 934.02Z" fill="#fff" stroke="#008b8d" stroke-width="2" stroke-linejoin="miter"/>
<path d="M1221.59 883L1245.21 883L1233.4 904.52Z" fill="#fff" stroke="#008b8d" stroke-width="2" stroke-linejoin="miter"/>
<path d="M1249.64 931.5L1273.26 931.5L1261.45 953.02Z" fill="#fff" stroke="#008b8d" stroke-width="2" stroke-linejoin="miter"/>
<path d="M1277.69 1020.7L1301.31 1020.7L1289.5 1042.22Z" fill="#fff" stroke="#008b8d" stroke-width="2" stroke-linejoin="miter"/>
<path d="M1305.74 1025.7L1329.36 1025.7L1317.55 1047.22Z" fill="#fff" stroke="#008b8d" stroke-width="2" stroke-linejoin="miter"/>
<path d="M1333.79 1118.7L1357.41 1118.7L1345.6 1140.22Z" fill="#fff" stroke="#008b8d" stroke-width="2" stroke-linejoin="miter"/>
<path d="M1361.84 1128.1L1385.46 1128.1L1373.65 1149.62Z" fill="#fff" stroke="#008b8d" stroke-width="2" stroke-linejoin="miter"/>
<path d="M1389.89 1412.2L1413.51 1412.2L1401.7 1433.72Z" fill="#fff" stroke="#008b8d" stroke-width="2" stroke-linejoin="miter"/>
<path d="M1417.94 1444.7L1441.56 1444.7L1429.75 1466.22Z" fill="#fff" stroke="#008b8d" stroke-width="2" stroke-linejoin="miter"/>
<path d="M1445.99 1459.4L1469.61 1459.4L1457.8 1480.92Z" fill="#fff" stroke="#008b8d" stroke-width="2" stroke-linejoin="miter"/>
<path d="M1474.04 1459.4L1497.66 1459.4L1485.85 1480.92Z" fill="#fff" stroke="#008b8d" stroke-width="2" stroke-linejoin="miter"/>
<path d="M1502.09 1477.7L1525.71 1477.7L1513.9 1499.22Z" fill="#fff" stroke="#008b8d" stroke-width="2" stroke-linejoin="miter"/>
<path d="M1530.14 1494.7L1553.76 1494.7L1541.95 1516.22Z" fill="#fff" stroke="#008b8d" stroke-width="2" stroke-linejoin="miter"/>
<path d="M1558.19 1501.2L1581.81 1501.2L1570 1522.72Z" fill="#fff" stroke="#008b8d" stroke-width="2" stroke-linejoin="miter"/>
<polyline points="195.55,1524.2 223.6,1529.7 251.65,1530.7 279.7,1528.6 307.75,1533.4 335.8,1531.8 363.85,1533 391.9,1533 419.95,1524.6 448,1510.5 476.05,1502.9 504.1,1504 532.15,1521 560.2,1524 588.25,1525.3 616.3,1520.3 644.35,1492 672.4,1524.6 700.45,1515 728.5,1506.3 756.55,1495.4 784.6,1482.4 812.65,1469.5 840.7,1443 868.75,1463.6 896.8,1461.4 924.85,1467 952.9,1445.3 980.95,1459.3 1009,1456.2 1037.05,1457 1065.1,1434.4 1093.15,1373 1121.2,1231.5 1149.25,1081.7 1177.3,908.9 1205.35,868.2 1233.4,996.3 1261.45,1143.6 1289.5,1283.9 1317.55,1356.2 1345.6,1408 1373.65,1434 1401.7,1448.4 1429.75,1463 1457.8,1481 1485.85,1493.5 1513.9,1504.5 1541.95,1519 1570,1525" fill="none" stroke="#008b8d" stroke-width="2" stroke-linejoin="round" clip-path="url(#plotclip)"/>
<path d="M183.74 1512.9L207.36 1512.9L195.55 1534.42Z" fill="#000" stroke="#008b8d" stroke-width="2" stroke-linejoin="miter"/>
<path d="M211.79 1518.4L235.41 1518.4L223.6 1539.92Z" fill="#000" stroke="#008b8d" stroke-width="2" stroke-linejoin="miter"/>
<path d="M239.84 1519.4L263.46 1519.4L251.65 1540.92Z" fill="#000" stroke="#008b8d" stroke-width="2" stroke-linejoin="miter"/>
<path d="M267.89 1517.3L291.51 1517.3L279.7 1538.82Z" fill="#000" stroke="#008b8d" stroke-width="2" stroke-linejoin="miter"/>
<path d="M295.94 1522.1L319.56 1522.1L307.75 1543.62Z" fill="#000" stroke="#008b8d" stroke-width="2" stroke-linejoin="miter"/>
<path d="M323.99 1520.5L347.61 1520.5L335.8 1542.02Z" fill="#000" stroke="#008b8d" stroke-width="2" stroke-linejoin="miter"/>
<path d="M352.04 1521.7L375.66 1521.7L363.85 1543.22Z" fill="#000" stroke="#008b8d" stroke-width="2" stroke-linejoin="miter"/>
<path d="M380.09 1521.7L403.71 1521.7L391.9 1543.22Z" fill="#000" stroke="#008b8d" stroke-width="2" stroke-linejoin="miter"/>
<path d="M408.14 1513.3L431.76 1513.3L419.95 1534.82Z" fill="#000" stroke="#008b8d" stroke-width="2" stroke-linejoin="miter"/>
<path d="M436.19 1499.2L459.81 1499.2L448 1520.72Z" fill="#000" stroke="#008b8d" stroke-width="2" stroke-linejoin="miter"/>
<path d="M464.24 1491.6L487.86 1491.6L476.05 1513.12Z" fill="#000" stroke="#008b8d" stroke-width="2" stroke-linejoin="miter"/>
<path d="M492.29 1492.7L515.91 1492.7L504.1 1514.22Z" fill="#000" stroke="#008b8d" stroke-width="2" stroke-linejoin="miter"/>
<path d="M520.34 1509.7L543.96 1509.7L532.15 1531.22Z" fill="#000" stroke="#008b8d" stroke-width="2" stroke-linejoin="miter"/>
<path d="M548.39 1512.7L572.01 1512.7L560.2 1534.22Z" fill="#000" stroke="#008b8d" stroke-width="2" stroke-linejoin="miter"/>
<path d="M576.44 1514L600.06 1514L588.25 1535.52Z" fill="#000" stroke="#008b8d" stroke-width="2" stroke-linejoin="miter"/>
<path d="M604.49 1509L628.11 1509L616.3 1530.52Z" fill="#000" stroke="#008b8d" stroke-width="2" stroke-linejoin="miter"/>
<path d="M632.54 1480.7L656.16 1480.7L644.35 1502.22Z" fill="#000" stroke="#008b8d" stroke-width="2" stroke-linejoin="miter"/>
<path d="M660.59 1513.3L684.21 1513.3L672.4 1534.82Z" fill="#000" stroke="#008b8d" stroke-width="2" stroke-linejoin="miter"/>
<path d="M688.64 1503.7L712.26 1503.7L700.45 1525.22Z" fill="#000" stroke="#008b8d" stroke-width="2" stroke-linejoin="miter"/>
<path d="M716.69 1495L740.31 1495L728.5 1516.52Z" fill="#000" stroke="#008b8d" stroke-width="2" stroke-linejoin="miter"/>
<path d="M744.74 1484.1L768.36 1484.1L756.55 1505.62Z" fill="#000" stroke="#008b8d" stroke-width="2" stroke-linejoin="miter"/>
<path d="M772.79 1471.1L796.41 1471.1L784.6 1492.62Z" fill="#000" stroke="#008b8d" stroke-width="2" stroke-linejoin="miter"/>
<path d="M800.84 1458.2L824.46 1458.2L812.65 1479.72Z" fill="#000" stroke="#008b8d" stroke-width="2" stroke-linejoin="miter"/>
<path d="M828.89 1431.7L852.51 1431.7L840.7 1453.22Z" fill="#000" stroke="#008b8d" stroke-width="2" stroke-linejoin="miter"/>
<path d="M856.94 1452.3L880.56 1452.3L868.75 1473.82Z" fill="#000" stroke="#008b8d" stroke-width="2" stroke-linejoin="miter"/>
<path d="M884.99 1450.1L908.61 1450.1L896.8 1471.62Z" fill="#000" stroke="#008b8d" stroke-width="2" stroke-linejoin="miter"/>
<path d="M913.04 1455.7L936.66 1455.7L924.85 1477.22Z" fill="#000" stroke="#008b8d" stroke-width="2" stroke-linejoin="miter"/>
<path d="M941.09 1434L964.71 1434L952.9 1455.52Z" fill="#000" stroke="#008b8d" stroke-width="2" stroke-linejoin="miter"/>
<path d="M969.14 1448L992.76 1448L980.95 1469.52Z" fill="#000" stroke="#008b8d" stroke-width="2" stroke-linejoin="miter"/>
<path d="M997.19 1444.9L1020.81 1444.9L1009 1466.42Z" fill="#000" stroke="#008b8d" stroke-width="2" stroke-linejoin="miter"/>
<path d="M1025.24 1445.7L1048.86 1445.7L1037.05 1467.22Z" fill="#000" stroke="#008b8d" stroke-width="2" stroke-linejoin="miter"/>
<path d="M1053.29 1423.1L1076.91 1423.1L1065.1 1444.62Z" fill="#000" stroke="#008b8d" stroke-width="2" stroke-linejoin="miter"/>
<path d="M1081.34 1361.7L1104.96 1361.7L1093.15 1383.22Z" fill="#000" stroke="#008b8d" stroke-width="2" stroke-linejoin="miter"/>
<path d="M1109.39 1220.2L1133.01 1220.2L1121.2 1241.72Z" fill="#000" stroke="#008b8d" stroke-width="2" stroke-linejoin="miter"/>
<path d="M1137.44 1070.4L1161.06 1070.4L1149.25 1091.92Z" fill="#000" stroke="#008b8d" stroke-width="2" stroke-linejoin="miter"/>
<path d="M1165.49 897.6L1189.11 897.6L1177.3 919.12Z" fill="#000" stroke="#008b8d" stroke-width="2" stroke-linejoin="miter"/>
<path d="M1193.54 856.9L1217.16 856.9L1205.35 878.42Z" fill="#000" stroke="#008b8d" stroke-width="2" stroke-linejoin="miter"/>
<path d="M1221.59 985L1245.21 985L1233.4 1006.52Z" fill="#000" stroke="#008b8d" stroke-width="2" stroke-linejoin="miter"/>
<path d="M1249.64 1132.3L1273.26 1132.3L1261.45 1153.82Z" fill="#000" stroke="#008b8d" stroke-width="2" stroke-linejoin="miter"/>
<path d="M1277.69 1272.6L1301.31 1272.6L1289.5 1294.12Z" fill="#000" stroke="#008b8d" stroke-width="2" stroke-linejoin="miter"/>
<path d="M1305.74 1344.9L1329.36 1344.9L1317.55 1366.42Z" fill="#000" stroke="#008b8d" stroke-width="2" stroke-linejoin="miter"/>
<path d="M1333.79 1396.7L1357.41 1396.7L1345.6 1418.22Z" fill="#000" stroke="#008b8d" stroke-width="2" stroke-linejoin="miter"/>
<path d="M1361.84 1422.7L1385.46 1422.7L1373.65 1444.22Z" fill="#000" stroke="#008b8d" stroke-width="2" stroke-linejoin="miter"/>
<path d="M1389.89 1437.1L1413.51 1437.1L1401.7 1458.62Z" fill="#000" stroke="#008b8d" stroke-width="2" stroke-linejoin="miter"/>
<path d="M1417.94 1451.7L1441.56 1451.7L1429.75 1473.22Z" fill="#000" stroke="#008b8d" stroke-width="2" stroke-linejoin="miter"/>
<path d="M1445.99 1469.7L1469.61 1469.7L1457.8 1491.22Z" fill="#000" stroke="#008b8d" stroke-width="2" stroke-linejoin="miter"/>
<path d="M1474.04 1482.2L1497.66 1482.2L1485.85 1503.72Z" fill="#000" stroke="#008b8d" stroke-width="2" stroke-linejoin="miter"/>
<path d="M1502.09 1493.2L1525.71 1493.2L1513.9 1514.72Z" fill="#000" stroke="#008b8d" stroke-width="2" stroke-linejoin="miter"/>
<path d="M1530.14 1507.7L1553.76 1507.7L1541.95 1529.22Z" fill="#000" stroke="#008b8d" stroke-width="2" stroke-linejoin="miter"/>
<path d="M1558.19 1513.7L1581.81 1513.7L1570 1535.22Z" fill="#000" stroke="#008b8d" stroke-width="2" stroke-linejoin="miter"/>
<g fill="#000">
<circle cx="383.6" cy="961.5" r="3.6"/>
<circle cx="399.6" cy="961.5" r="3.6"/>
<circle cx="415.6" cy="961.5" r="3.6"/>
<circle cx="431.6" cy="961.5" r="3.6"/>
<circle cx="447.6" cy="961.5" r="3.6"/>
<circle cx="463.6" cy="961.5" r="3.6"/>
<circle cx="479.6" cy="961.5" r="3.6"/>
<circle cx="495.6" cy="961.5" r="3.6"/>
<circle cx="511.6" cy="961.5" r="3.6"/>
<circle cx="527.6" cy="961.5" r="3.6"/>
<circle cx="543.6" cy="961.5" r="3.6"/>
<circle cx="559.6" cy="961.5" r="3.6"/>
<circle cx="575.6" cy="961.5" r="3.6"/>
<circle cx="591.6" cy="961.5" r="3.6"/>
<circle cx="607.6" cy="961.5" r="3.6"/>
<circle cx="383.6" cy="964.3" r="3.6"/>
<circle cx="383.6" cy="979.17" r="3.6"/>
<circle cx="383.6" cy="994.04" r="3.6"/>
<circle cx="383.6" cy="1008.91" r="3.6"/>
<circle cx="383.6" cy="1023.78" r="3.6"/>
<circle cx="383.6" cy="1038.65" r="3.6"/>
<circle cx="383.6" cy="1053.52" r="3.6"/>
<circle cx="383.6" cy="1068.39" r="3.6"/>
<circle cx="383.6" cy="1083.26" r="3.6"/>
<circle cx="383.6" cy="1098.13" r="3.6"/>
<circle cx="383.6" cy="1113" r="3.6"/>
<circle cx="383.6" cy="1127.87" r="3.6"/>
<circle cx="383.6" cy="1142.74" r="3.6"/>
<circle cx="383.6" cy="1157.61" r="3.6"/>
<circle cx="383.6" cy="1172.48" r="3.6"/>
<circle cx="383.6" cy="1187.35" r="3.6"/>
<circle cx="383.6" cy="1202.22" r="3.6"/>
<circle cx="383.6" cy="1217.09" r="3.6"/>
<circle cx="383.6" cy="1231.96" r="3.6"/>
<circle cx="383.6" cy="1246.83" r="3.6"/>
<circle cx="383.6" cy="1261.7" r="3.6"/>
<circle cx="383.6" cy="1276.57" r="3.6"/>
<circle cx="383.6" cy="1291.44" r="3.6"/>
<circle cx="383.6" cy="1306.31" r="3.6"/>
<circle cx="383.6" cy="1321.18" r="3.6"/>
<circle cx="383.6" cy="1336.05" r="3.6"/>
<circle cx="383.6" cy="1350.92" r="3.6"/>
<circle cx="383.6" cy="1365.79" r="3.6"/>
<circle cx="383.6" cy="1380.66" r="3.6"/>
<circle cx="383.6" cy="1395.53" r="3.6"/>
<circle cx="383.6" cy="1410.4" r="3.6"/>
<circle cx="383.6" cy="1425.27" r="3.6"/>
<circle cx="383.6" cy="1440.14" r="3.6"/>
<circle cx="383.6" cy="1455.01" r="3.6"/>
<circle cx="383.6" cy="1469.88" r="3.6"/>
<circle cx="383.6" cy="1484.75" r="3.6"/>
<circle cx="383.6" cy="1499.62" r="3.6"/>
<circle cx="383.6" cy="1514.49" r="3.6"/>
<circle cx="383.6" cy="1529.36" r="3.6"/>
<circle cx="619.2" cy="965.2" r="3.6"/>
<circle cx="619.2" cy="980.07" r="3.6"/>
<circle cx="619.2" cy="994.94" r="3.6"/>
<circle cx="619.2" cy="1009.81" r="3.6"/>
<circle cx="619.2" cy="1024.68" r="3.6"/>
<circle cx="619.2" cy="1039.55" r="3.6"/>
<circle cx="619.2" cy="1054.42" r="3.6"/>
<circle cx="619.2" cy="1069.29" r="3.6"/>
<circle cx="619.2" cy="1084.16" r="3.6"/>
<circle cx="619.2" cy="1099.03" r="3.6"/>
<circle cx="619.2" cy="1113.9" r="3.6"/>
<circle cx="619.2" cy="1128.77" r="3.6"/>
<circle cx="619.2" cy="1143.64" r="3.6"/>
<circle cx="619.2" cy="1158.51" r="3.6"/>
<circle cx="619.2" cy="1173.38" r="3.6"/>
<circle cx="619.2" cy="1188.25" r="3.6"/>
<circle cx="619.2" cy="1203.12" r="3.6"/>
<circle cx="619.2" cy="1217.99" r="3.6"/>
<circle cx="619.2" cy="1232.86" r="3.6"/>
<circle cx="619.2" cy="1247.73" r="3.6"/>
<circle cx="619.2" cy="1262.6" r="3.6"/>
<circle cx="619.2" cy="1277.47" r="3.6"/>
<circle cx="619.2" cy="1292.34" r="3.6"/>
<circle cx="619.2" cy="1307.21" r="3.6"/>
<circle cx="619.2" cy="1322.08" r="3.6"/>
<circle cx="619.2" cy="1336.95" r="3.6"/>
<circle cx="619.2" cy="1351.82" r="3.6"/>
<circle cx="619.2" cy="1366.69" r="3.6"/>
<circle cx="619.2" cy="1381.56" r="3.6"/>
<circle cx="619.2" cy="1396.43" r="3.6"/>
<circle cx="619.2" cy="1411.3" r="3.6"/>
<circle cx="619.2" cy="1426.17" r="3.6"/>
<circle cx="619.2" cy="1441.04" r="3.6"/>
<circle cx="619.2" cy="1455.91" r="3.6"/>
<circle cx="619.2" cy="1470.78" r="3.6"/>
<circle cx="619.2" cy="1485.65" r="3.6"/>
<circle cx="619.2" cy="1500.52" r="3.6"/>
<circle cx="619.2" cy="1515.39" r="3.6"/>
<circle cx="391.6" cy="1536.6" r="3.6"/>
<circle cx="407.6" cy="1536.6" r="3.6"/>
<circle cx="423.6" cy="1536.6" r="3.6"/>
<circle cx="439.6" cy="1536.6" r="3.6"/>
<circle cx="455.6" cy="1536.6" r="3.6"/>
<circle cx="471.6" cy="1536.6" r="3.6"/>
<circle cx="487.6" cy="1536.6" r="3.6"/>
<circle cx="503.6" cy="1536.6" r="3.6"/>
<circle cx="519.6" cy="1536.6" r="3.6"/>
<circle cx="535.6" cy="1536.6" r="3.6"/>
<circle cx="551.6" cy="1536.6" r="3.6"/>
<circle cx="567.6" cy="1536.6" r="3.6"/>
<circle cx="583.6" cy="1536.6" r="3.6"/>
<circle cx="599.6" cy="1536.6" r="3.6"/>
<circle cx="615.6" cy="1536.6" r="3.6"/>
<circle cx="1017.4" cy="833.2" r="3.6"/>
<circle cx="1033.4" cy="833.2" r="3.6"/>
<circle cx="1049.4" cy="833.2" r="3.6"/>
<circle cx="1065.4" cy="833.2" r="3.6"/>
<circle cx="1081.4" cy="833.2" r="3.6"/>
<circle cx="1097.4" cy="833.2" r="3.6"/>
<circle cx="1113.4" cy="833.2" r="3.6"/>
<circle cx="1129.4" cy="833.2" r="3.6"/>
<circle cx="1145.4" cy="833.2" r="3.6"/>
<circle cx="1161.4" cy="833.2" r="3.6"/>
<circle cx="1177.4" cy="833.2" r="3.6"/>
<circle cx="1193.4" cy="833.2" r="3.6"/>
<circle cx="1209.4" cy="833.2" r="3.6"/>
<circle cx="1225.4" cy="833.2" r="3.6"/>
<circle cx="1241.4" cy="833.2" r="3.6"/>
<circle cx="1257.4" cy="833.2" r="3.6"/>
<circle cx="1273.4" cy="833.2" r="3.6"/>
<circle cx="1289.4" cy="833.2" r="3.6"/>
<circle cx="1305.4" cy="833.2" r="3.6"/>
<circle cx="1321.4" cy="833.2" r="3.6"/>
<circle cx="1337.4" cy="833.2" r="3.6"/>
<circle cx="1353.4" cy="833.2" r="3.6"/>
<circle cx="1369.4" cy="833.2" r="3.6"/>
<circle cx="1385.4" cy="833.2" r="3.6"/>
<circle cx="1401.4" cy="833.2" r="3.6"/>
<circle cx="1417.4" cy="833.2" r="3.6"/>
<circle cx="1433.4" cy="833.2" r="3.6"/>
<circle cx="1449.4" cy="833.2" r="3.6"/>
<circle cx="1465.4" cy="833.2" r="3.6"/>
<circle cx="1481.4" cy="833.2" r="3.6"/>
<circle cx="1497.4" cy="833.2" r="3.6"/>
<circle cx="1513.4" cy="833.2" r="3.6"/>
<circle cx="1529.4" cy="833.2" r="3.6"/>
<circle cx="1545.4" cy="833.2" r="3.6"/>
<circle cx="1561.4" cy="833.2" r="3.6"/>
<circle cx="1017.4" cy="840.4" r="3.6"/>
<circle cx="1017.4" cy="855.27" r="3.6"/>
<circle cx="1017.4" cy="870.14" r="3.6"/>
<circle cx="1017.4" cy="885.01" r="3.6"/>
<circle cx="1017.4" cy="899.88" r="3.6"/>
<circle cx="1017.4" cy="914.75" r="3.6"/>
<circle cx="1017.4" cy="929.62" r="3.6"/>
<circle cx="1017.4" cy="944.49" r="3.6"/>
<circle cx="1017.4" cy="959.36" r="3.6"/>
<circle cx="1017.4" cy="974.23" r="3.6"/>
<circle cx="1017.4" cy="989.1" r="3.6"/>
<circle cx="1017.4" cy="1003.97" r="3.6"/>
<circle cx="1017.4" cy="1018.84" r="3.6"/>
<circle cx="1017.4" cy="1033.71" r="3.6"/>
<circle cx="1017.4" cy="1048.58" r="3.6"/>
<circle cx="1017.4" cy="1063.45" r="3.6"/>
<circle cx="1017.4" cy="1078.32" r="3.6"/>
<circle cx="1017.4" cy="1093.19" r="3.6"/>
<circle cx="1017.4" cy="1108.06" r="3.6"/>
<circle cx="1017.4" cy="1122.93" r="3.6"/>
<circle cx="1017.4" cy="1137.8" r="3.6"/>
<circle cx="1017.4" cy="1152.67" r="3.6"/>
<circle cx="1017.4" cy="1167.54" r="3.6"/>
<circle cx="1017.4" cy="1182.41" r="3.6"/>
<circle cx="1017.4" cy="1197.28" r="3.6"/>
<circle cx="1017.4" cy="1212.15" r="3.6"/>
<circle cx="1017.4" cy="1227.02" r="3.6"/>
<circle cx="1017.4" cy="1241.89" r="3.6"/>
<circle cx="1017.4" cy="1256.76" r="3.6"/>
<circle cx="1017.4" cy="1271.63" r="3.6"/>
<circle cx="1017.4" cy="1286.5" r="3.6"/>
<circle cx="1017.4" cy="1301.37" r="3.6"/>
<circle cx="1017.4" cy="1316.24" r="3.6"/>
<circle cx="1017.4" cy="1331.11" r="3.6"/>
<circle cx="1017.4" cy="1345.98" r="3.6"/>
<circle cx="1017.4" cy="1360.85" r="3.6"/>
<circle cx="1017.4" cy="1375.72" r="3.6"/>
<circle cx="1017.4" cy="1390.59" r="3.6"/>
<circle cx="1017.4" cy="1405.46" r="3.6"/>
<circle cx="1017.4" cy="1420.33" r="3.6"/>
<circle cx="1017.4" cy="1435.2" r="3.6"/>
<circle cx="1017.4" cy="1450.07" r="3.6"/>
<circle cx="1017.4" cy="1464.94" r="3.6"/>
<circle cx="1017.4" cy="1479.81" r="3.6"/>
<circle cx="1017.4" cy="1494.68" r="3.6"/>
<circle cx="1017.4" cy="1509.55" r="3.6"/>
<circle cx="1017.4" cy="1524.42" r="3.6"/>
<circle cx="1563" cy="845.8" r="3.6"/>
<circle cx="1563" cy="860.67" r="3.6"/>
<circle cx="1563" cy="875.54" r="3.6"/>
<circle cx="1563" cy="890.41" r="3.6"/>
<circle cx="1563" cy="905.28" r="3.6"/>
<circle cx="1563" cy="920.15" r="3.6"/>
<circle cx="1563" cy="935.02" r="3.6"/>
<circle cx="1563" cy="949.89" r="3.6"/>
<circle cx="1563" cy="964.76" r="3.6"/>
<circle cx="1563" cy="979.63" r="3.6"/>
<circle cx="1563" cy="994.5" r="3.6"/>
<circle cx="1563" cy="1009.37" r="3.6"/>
<circle cx="1563" cy="1024.24" r="3.6"/>
<circle cx="1563" cy="1039.11" r="3.6"/>
<circle cx="1563" cy="1053.98" r="3.6"/>
<circle cx="1563" cy="1068.85" r="3.6"/>
<circle cx="1563" cy="1083.72" r="3.6"/>
<circle cx="1563" cy="1098.59" r="3.6"/>
<circle cx="1563" cy="1113.46" r="3.6"/>
<circle cx="1563" cy="1128.33" r="3.6"/>
<circle cx="1563" cy="1143.2" r="3.6"/>
<circle cx="1563" cy="1158.07" r="3.6"/>
<circle cx="1563" cy="1172.94" r="3.6"/>
<circle cx="1563" cy="1187.81" r="3.6"/>
<circle cx="1563" cy="1202.68" r="3.6"/>
<circle cx="1563" cy="1217.55" r="3.6"/>
<circle cx="1563" cy="1232.42" r="3.6"/>
<circle cx="1563" cy="1247.29" r="3.6"/>
<circle cx="1563" cy="1262.16" r="3.6"/>
<circle cx="1563" cy="1277.03" r="3.6"/>
<circle cx="1563" cy="1291.9" r="3.6"/>
<circle cx="1563" cy="1306.77" r="3.6"/>
<circle cx="1563" cy="1321.64" r="3.6"/>
<circle cx="1563" cy="1336.51" r="3.6"/>
<circle cx="1563" cy="1351.38" r="3.6"/>
<circle cx="1563" cy="1366.25" r="3.6"/>
<circle cx="1563" cy="1381.12" r="3.6"/>
<circle cx="1563" cy="1395.99" r="3.6"/>
<circle cx="1563" cy="1410.86" r="3.6"/>
<circle cx="1563" cy="1425.73" r="3.6"/>
<circle cx="1563" cy="1440.6" r="3.6"/>
<circle cx="1563" cy="1455.47" r="3.6"/>
<circle cx="1563" cy="1470.34" r="3.6"/>
<circle cx="1563" cy="1485.21" r="3.6"/>
<circle cx="1563" cy="1500.08" r="3.6"/>
<circle cx="1563" cy="1514.95" r="3.6"/>
<circle cx="1563" cy="1529.82" r="3.6"/>
<circle cx="1025.4" cy="1536.6" r="3.6"/>
<circle cx="1041.4" cy="1536.6" r="3.6"/>
<circle cx="1057.4" cy="1536.6" r="3.6"/>
<circle cx="1073.4" cy="1536.6" r="3.6"/>
<circle cx="1089.4" cy="1536.6" r="3.6"/>
<circle cx="1105.4" cy="1536.6" r="3.6"/>
<circle cx="1121.4" cy="1536.6" r="3.6"/>
<circle cx="1137.4" cy="1536.6" r="3.6"/>
<circle cx="1153.4" cy="1536.6" r="3.6"/>
<circle cx="1169.4" cy="1536.6" r="3.6"/>
<circle cx="1185.4" cy="1536.6" r="3.6"/>
<circle cx="1201.4" cy="1536.6" r="3.6"/>
<circle cx="1217.4" cy="1536.6" r="3.6"/>
<circle cx="1233.4" cy="1536.6" r="3.6"/>
<circle cx="1249.4" cy="1536.6" r="3.6"/>
<circle cx="1265.4" cy="1536.6" r="3.6"/>
<circle cx="1281.4" cy="1536.6" r="3.6"/>
<circle cx="1297.4" cy="1536.6" r="3.6"/>
<circle cx="1313.4" cy="1536.6" r="3.6"/>
<circle cx="1329.4" cy="1536.6" r="3.6"/>
<circle cx="1345.4" cy="1536.6" r="3.6"/>
<circle cx="1361.4" cy="1536.6" r="3.6"/>
<circle cx="1377.4" cy="1536.6" r="3.6"/>
<circle cx="1393.4" cy="1536.6" r="3.6"/>
<circle cx="1409.4" cy="1536.6" r="3.6"/>
<circle cx="1425.4" cy="1536.6" r="3.6"/>
<circle cx="1441.4" cy="1536.6" r="3.6"/>
<circle cx="1457.4" cy="1536.6" r="3.6"/>
<circle cx="1473.4" cy="1536.6" r="3.6"/>
<circle cx="1489.4" cy="1536.6" r="3.6"/>
<circle cx="1505.4" cy="1536.6" r="3.6"/>
<circle cx="1521.4" cy="1536.6" r="3.6"/>
<circle cx="1537.4" cy="1536.6" r="3.6"/>
<circle cx="1553.4" cy="1536.6" r="3.6"/>
<circle cx="1569.4" cy="1536.6" r="3.6"/>
</g>
<text x="135.5" y="1545.8" font-size="35.5" font-weight="bold" font-style="normal" text-anchor="end" fill="#000" stroke="#000" stroke-width="0.8" stroke-linejoin="round" >0</text>
<text x="135.5" y="1390.26" font-size="35.5" font-weight="bold" font-style="normal" text-anchor="end" fill="#000" stroke="#000" stroke-width="0.8" stroke-linejoin="round" >1</text>
<text x="135.5" y="1234.72" font-size="35.5" font-weight="bold" font-style="normal" text-anchor="end" fill="#000" stroke="#000" stroke-width="0.8" stroke-linejoin="round" >2</text>
<text x="135.5" y="1079.18" font-size="35.5" font-weight="bold" font-style="normal" text-anchor="end" fill="#000" stroke="#000" stroke-width="0.8" stroke-linejoin="round" >3</text>
<text x="135.5" y="923.64" font-size="35.5" font-weight="bold" font-style="normal" text-anchor="end" fill="#000" stroke="#000" stroke-width="0.8" stroke-linejoin="round" >4</text>
<text x="135.5" y="768.1" font-size="35.5" font-weight="bold" font-style="normal" text-anchor="end" fill="#000" stroke="#000" stroke-width="0.8" stroke-linejoin="round" >5</text>
<text x="1601.5" y="1545.8" font-size="35.5" font-weight="bold" font-style="normal" text-anchor="start" fill="#000" stroke="#000" stroke-width="0.8" stroke-linejoin="round" >0</text>
<text x="1601.5" y="1416.18" font-size="35.5" font-weight="bold" font-style="normal" text-anchor="start" fill="#000" stroke="#000" stroke-width="0.8" stroke-linejoin="round" >2</text>
<text x="1601.5" y="1286.57" font-size="35.5" font-weight="bold" font-style="normal" text-anchor="start" fill="#000" stroke="#000" stroke-width="0.8" stroke-linejoin="round" >4</text>
<text x="1601.5" y="1156.95" font-size="35.5" font-weight="bold" font-style="normal" text-anchor="start" fill="#000" stroke="#000" stroke-width="0.8" stroke-linejoin="round" >6</text>
<text x="1601.5" y="1027.33" font-size="35.5" font-weight="bold" font-style="normal" text-anchor="start" fill="#000" stroke="#000" stroke-width="0.8" stroke-linejoin="round" >8</text>
<text x="1601.5" y="897.72" font-size="35.5" font-weight="bold" font-style="normal" text-anchor="start" fill="#000" stroke="#000" stroke-width="0.8" stroke-linejoin="round" >10</text>
<text x="1601.5" y="768.1" font-size="35.5" font-weight="bold" font-style="normal" text-anchor="start" fill="#000" stroke="#000" stroke-width="0.8" stroke-linejoin="round" >12</text>
<line x1="167.5" y1="1534" x2="167.5" y2="1542" stroke="#000" stroke-width="3.4" stroke-linecap="butt" />
<line x1="195.55" y1="1534" x2="195.55" y2="1539" stroke="#000" stroke-width="3" stroke-linecap="butt" />
<line x1="223.6" y1="1534" x2="223.6" y2="1539" stroke="#000" stroke-width="3" stroke-linecap="butt" />
<line x1="251.65" y1="1534" x2="251.65" y2="1539" stroke="#000" stroke-width="3" stroke-linecap="butt" />
<line x1="279.7" y1="1534" x2="279.7" y2="1539" stroke="#000" stroke-width="3" stroke-linecap="butt" />
<line x1="307.75" y1="1534" x2="307.75" y2="1539" stroke="#000" stroke-width="3" stroke-linecap="butt" />
<line x1="335.8" y1="1534" x2="335.8" y2="1539" stroke="#000" stroke-width="3" stroke-linecap="butt" />
<line x1="363.85" y1="1534" x2="363.85" y2="1539" stroke="#000" stroke-width="3" stroke-linecap="butt" />
<line x1="391.9" y1="1534" x2="391.9" y2="1539" stroke="#000" stroke-width="3" stroke-linecap="butt" />
<line x1="419.95" y1="1534" x2="419.95" y2="1539" stroke="#000" stroke-width="3" stroke-linecap="butt" />
<line x1="448" y1="1534" x2="448" y2="1542" stroke="#000" stroke-width="3.4" stroke-linecap="butt" />
<line x1="476.05" y1="1534" x2="476.05" y2="1539" stroke="#000" stroke-width="3" stroke-linecap="butt" />
<line x1="504.1" y1="1534" x2="504.1" y2="1539" stroke="#000" stroke-width="3" stroke-linecap="butt" />
<line x1="532.15" y1="1534" x2="532.15" y2="1539" stroke="#000" stroke-width="3" stroke-linecap="butt" />
<line x1="560.2" y1="1534" x2="560.2" y2="1539" stroke="#000" stroke-width="3" stroke-linecap="butt" />
<line x1="588.25" y1="1534" x2="588.25" y2="1539" stroke="#000" stroke-width="3" stroke-linecap="butt" />
<line x1="616.3" y1="1534" x2="616.3" y2="1539" stroke="#000" stroke-width="3" stroke-linecap="butt" />
<line x1="644.35" y1="1534" x2="644.35" y2="1539" stroke="#000" stroke-width="3" stroke-linecap="butt" />
<line x1="672.4" y1="1534" x2="672.4" y2="1539" stroke="#000" stroke-width="3" stroke-linecap="butt" />
<line x1="700.45" y1="1534" x2="700.45" y2="1539" stroke="#000" stroke-width="3" stroke-linecap="butt" />
<line x1="728.5" y1="1534" x2="728.5" y2="1542" stroke="#000" stroke-width="3.4" stroke-linecap="butt" />
<line x1="756.55" y1="1534" x2="756.55" y2="1539" stroke="#000" stroke-width="3" stroke-linecap="butt" />
<line x1="784.6" y1="1534" x2="784.6" y2="1539" stroke="#000" stroke-width="3" stroke-linecap="butt" />
<line x1="812.65" y1="1534" x2="812.65" y2="1539" stroke="#000" stroke-width="3" stroke-linecap="butt" />
<line x1="840.7" y1="1534" x2="840.7" y2="1539" stroke="#000" stroke-width="3" stroke-linecap="butt" />
<line x1="868.75" y1="1534" x2="868.75" y2="1539" stroke="#000" stroke-width="3" stroke-linecap="butt" />
<line x1="896.8" y1="1534" x2="896.8" y2="1539" stroke="#000" stroke-width="3" stroke-linecap="butt" />
<line x1="924.85" y1="1534" x2="924.85" y2="1539" stroke="#000" stroke-width="3" stroke-linecap="butt" />
<line x1="952.9" y1="1534" x2="952.9" y2="1539" stroke="#000" stroke-width="3" stroke-linecap="butt" />
<line x1="980.95" y1="1534" x2="980.95" y2="1539" stroke="#000" stroke-width="3" stroke-linecap="butt" />
<line x1="1009" y1="1534" x2="1009" y2="1542" stroke="#000" stroke-width="3.4" stroke-linecap="butt" />
<line x1="1037.05" y1="1534" x2="1037.05" y2="1539" stroke="#000" stroke-width="3" stroke-linecap="butt" />
<line x1="1065.1" y1="1534" x2="1065.1" y2="1539" stroke="#000" stroke-width="3" stroke-linecap="butt" />
<line x1="1093.15" y1="1534" x2="1093.15" y2="1539" stroke="#000" stroke-width="3" stroke-linecap="butt" />
<line x1="1121.2" y1="1534" x2="1121.2" y2="1539" stroke="#000" stroke-width="3" stroke-linecap="butt" />
<line x1="1149.25" y1="1534" x2="1149.25" y2="1539" stroke="#000" stroke-width="3" stroke-linecap="butt" />
<line x1="1177.3" y1="1534" x2="1177.3" y2="1539" stroke="#000" stroke-width="3" stroke-linecap="butt" />
<line x1="1205.35" y1="1534" x2="1205.35" y2="1539" stroke="#000" stroke-width="3" stroke-linecap="butt" />
<line x1="1233.4" y1="1534" x2="1233.4" y2="1539" stroke="#000" stroke-width="3" stroke-linecap="butt" />
<line x1="1261.45" y1="1534" x2="1261.45" y2="1539" stroke="#000" stroke-width="3" stroke-linecap="butt" />
<line x1="1289.5" y1="1534" x2="1289.5" y2="1542" stroke="#000" stroke-width="3.4" stroke-linecap="butt" />
<line x1="1317.55" y1="1534" x2="1317.55" y2="1539" stroke="#000" stroke-width="3" stroke-linecap="butt" />
<line x1="1345.6" y1="1534" x2="1345.6" y2="1539" stroke="#000" stroke-width="3" stroke-linecap="butt" />
<line x1="1373.65" y1="1534" x2="1373.65" y2="1539" stroke="#000" stroke-width="3" stroke-linecap="butt" />
<line x1="1401.7" y1="1534" x2="1401.7" y2="1539" stroke="#000" stroke-width="3" stroke-linecap="butt" />
<line x1="1429.75" y1="1534" x2="1429.75" y2="1539" stroke="#000" stroke-width="3" stroke-linecap="butt" />
<line x1="1457.8" y1="1534" x2="1457.8" y2="1539" stroke="#000" stroke-width="3" stroke-linecap="butt" />
<line x1="1485.85" y1="1534" x2="1485.85" y2="1539" stroke="#000" stroke-width="3" stroke-linecap="butt" />
<line x1="1513.9" y1="1534" x2="1513.9" y2="1539" stroke="#000" stroke-width="3" stroke-linecap="butt" />
<line x1="1541.95" y1="1534" x2="1541.95" y2="1539" stroke="#000" stroke-width="3" stroke-linecap="butt" />
<line x1="1570" y1="1534" x2="1570" y2="1542" stroke="#000" stroke-width="3.4" stroke-linecap="butt" />
<text transform="translate(167.5 1592) scale(1.07 1)" font-size="36" font-weight="bold" font-style="normal" text-anchor="middle" fill="#000" stroke="#000" stroke-width="0.8" stroke-linejoin="round" >0</text>
<text transform="translate(448 1592) scale(1.07 1)" font-size="36" font-weight="bold" font-style="normal" text-anchor="middle" fill="#000" stroke="#000" stroke-width="0.8" stroke-linejoin="round" >10</text>
<text transform="translate(728.5 1592) scale(1.07 1)" font-size="36" font-weight="bold" font-style="normal" text-anchor="middle" fill="#000" stroke="#000" stroke-width="0.8" stroke-linejoin="round" >20</text>
<text transform="translate(1009 1592) scale(1.07 1)" font-size="36" font-weight="bold" font-style="normal" text-anchor="middle" fill="#000" stroke="#000" stroke-width="0.8" stroke-linejoin="round" >30</text>
<text transform="translate(1289.5 1592) scale(1.07 1)" font-size="36" font-weight="bold" font-style="normal" text-anchor="middle" fill="#000" stroke="#000" stroke-width="0.8" stroke-linejoin="round" >40</text>
<text transform="translate(1570 1592) scale(1.07 1)" font-size="36" font-weight="bold" font-style="normal" text-anchor="middle" fill="#000" stroke="#000" stroke-width="0.8" stroke-linejoin="round" >50</text>
<text transform="translate(867.8 1660) scale(1.02 1)" font-size="51" font-weight="bold" font-style="normal" text-anchor="middle" fill="#000" stroke="#000" stroke-width="0.7" stroke-linejoin="round" >Fractions</text>
<text transform="translate(509.8 940.4) scale(1.03 1)" font-size="54.5" font-weight="bold" font-style="normal" text-anchor="middle" fill="#000" stroke="#000" stroke-width="0.8" stroke-linejoin="round" >VLDL</text>
<text transform="translate(1205.8 816.2) scale(1.03 1)" font-size="54.3" font-weight="bold" font-style="normal" text-anchor="middle" fill="#000" stroke="#000" stroke-width="0.8" stroke-linejoin="round" >HDL</text>
<text transform="translate(868.5 1387.2) scale(1.05 1)" font-size="54.3" font-weight="bold" font-style="normal" text-anchor="middle" fill="#000" stroke="#000" stroke-width="0.8" stroke-linejoin="round" >LDL</text>
<text x="19" y="770.5" font-size="57" font-weight="bold" font-style="normal" text-anchor="start" fill="#000" stroke="#000" stroke-width="0.3" stroke-linejoin="round" >d</text>
<text transform="translate(64.5 1134.2) rotate(-90) scale(0.89 1)" font-size="58.4" font-weight="bold" font-style="normal" text-anchor="middle" fill="#3d038f" stroke="#3d038f" stroke-width="0.6" stroke-linejoin="round" >TG (<tspan font-weight="normal" stroke="none">µ</tspan>g/fraction)</text>
<text transform="translate(1686.3 1158.4) rotate(90) scale(0.87 1)" font-size="60" font-weight="bold" font-style="normal" text-anchor="middle" fill="#008b8d" stroke="#008b8d" stroke-width="0.6" stroke-linejoin="round" >Cholesterol (<tspan font-weight="normal" stroke="none">µ</tspan>g/fraction)</text>
<line x1="214.5" y1="775" x2="271.7" y2="775" stroke="#3d038f" stroke-width="2" stroke-linecap="butt" />
<path d="M231.19 763.7L254.81 763.7L243 785.22Z" fill="#000" stroke="#3d038f" stroke-width="2" stroke-linejoin="miter"/>
<text x="305.5" y="792.4" font-size="40" font-weight="normal" font-style="italic" fill="#000" stroke="#000" stroke-width="0.6">10A<tspan font-size="31" dx="0.5" dy="-13">+/+</tspan><tspan font-style="normal" font-size="40" dx="7.5" dy="13">(6)</tspan></text>
<line x1="214.5" y1="845.3" x2="271.7" y2="845.3" stroke="#3d038f" stroke-width="2" stroke-linecap="butt" />
<path d="M231.19 834L254.81 834L243 855.52Z" fill="#fff" stroke="#3d038f" stroke-width="2" stroke-linejoin="miter"/>
<text x="305.5" y="862.7" font-size="40" font-weight="normal" font-style="italic" fill="#000" stroke="#000" stroke-width="0.6">10A<tspan font-size="31" dx="0.5" dy="-13">-/-</tspan><tspan font-style="normal" font-size="40" dx="7.5" dy="13">(7)</tspan></text>
<line x1="541.3" y1="781.2" x2="598.4" y2="781.2" stroke="#008b8d" stroke-width="2" stroke-linecap="butt" />
<path d="M558.39 769.9L582.01 769.9L570.2 791.42Z" fill="#000" stroke="#008b8d" stroke-width="2" stroke-linejoin="miter"/>
<text x="633.8" y="798.2" font-size="40" font-weight="normal" font-style="italic" fill="#000" stroke="#000" stroke-width="0.6">10A<tspan font-size="31" dx="0.5" dy="-13">+/+</tspan><tspan font-style="normal" font-size="40" dx="15.5" dy="13">(6)</tspan></text>
<line x1="538.4" y1="855.2" x2="595.5" y2="855.2" stroke="#008b8d" stroke-width="2" stroke-linecap="butt" />
<path d="M555.39 843.9L579.01 843.9L567.2 865.42Z" fill="#fff" stroke="#008b8d" stroke-width="2" stroke-linejoin="miter"/>
<text x="629.9" y="872.4" font-size="40" font-weight="normal" font-style="italic" fill="#000" stroke="#000" stroke-width="0.6">10A<tspan font-size="31" dx="0.5" dy="-13">-/-</tspan><tspan font-style="normal" font-size="40" dx="7.5" dy="13">(6)</tspan></text>
</g>
<g id="panel-e">
<g fill="#000">
<circle cx="233.4" cy="1772.7" r="3.4"/>
<circle cx="233.4" cy="2351.6" r="3.4"/>
<circle cx="247.94" cy="1772.7" r="3.4"/>
<circle cx="247.94" cy="2351.6" r="3.4"/>
<circle cx="262.48" cy="1772.7" r="3.4"/>
<circle cx="262.48" cy="2351.6" r="3.4"/>
<circle cx="277.03" cy="1772.7" r="3.4"/>
<circle cx="277.03" cy="2351.6" r="3.4"/>
<circle cx="291.57" cy="1772.7" r="3.4"/>
<circle cx="291.57" cy="2351.6" r="3.4"/>
<circle cx="306.11" cy="1772.7" r="3.4"/>
<circle cx="306.11" cy="2351.6" r="3.4"/>
<circle cx="320.65" cy="1772.7" r="3.4"/>
<circle cx="320.65" cy="2351.6" r="3.4"/>
<circle cx="335.2" cy="1772.7" r="3.4"/>
<circle cx="335.2" cy="2351.6" r="3.4"/>
<circle cx="349.74" cy="1772.7" r="3.4"/>
<circle cx="349.74" cy="2351.6" r="3.4"/>
<circle cx="364.28" cy="1772.7" r="3.4"/>
<circle cx="364.28" cy="2351.6" r="3.4"/>
<circle cx="378.82" cy="1772.7" r="3.4"/>
<circle cx="378.82" cy="2351.6" r="3.4"/>
<circle cx="393.37" cy="1772.7" r="3.4"/>
<circle cx="393.37" cy="2351.6" r="3.4"/>
<circle cx="407.91" cy="1772.7" r="3.4"/>
<circle cx="407.91" cy="2351.6" r="3.4"/>
<circle cx="422.45" cy="1772.7" r="3.4"/>
<circle cx="422.45" cy="2351.6" r="3.4"/>
<circle cx="436.99" cy="1772.7" r="3.4"/>
<circle cx="436.99" cy="2351.6" r="3.4"/>
<circle cx="451.54" cy="1772.7" r="3.4"/>
<circle cx="451.54" cy="2351.6" r="3.4"/>
<circle cx="466.08" cy="1772.7" r="3.4"/>
<circle cx="466.08" cy="2351.6" r="3.4"/>
<circle cx="480.62" cy="1772.7" r="3.4"/>
<circle cx="480.62" cy="2351.6" r="3.4"/>
<circle cx="495.16" cy="1772.7" r="3.4"/>
<circle cx="495.16" cy="2351.6" r="3.4"/>
<circle cx="509.71" cy="1772.7" r="3.4"/>
<circle cx="509.71" cy="2351.6" r="3.4"/>
<circle cx="524.25" cy="1772.7" r="3.4"/>
<circle cx="524.25" cy="2351.6" r="3.4"/>
<circle cx="538.79" cy="1772.7" r="3.4"/>
<circle cx="538.79" cy="2351.6" r="3.4"/>
<circle cx="553.33" cy="1772.7" r="3.4"/>
<circle cx="553.33" cy="2351.6" r="3.4"/>
<circle cx="567.88" cy="1772.7" r="3.4"/>
<circle cx="567.88" cy="2351.6" r="3.4"/>
<circle cx="582.42" cy="1772.7" r="3.4"/>
<circle cx="582.42" cy="2351.6" r="3.4"/>
<circle cx="596.96" cy="1772.7" r="3.4"/>
<circle cx="596.96" cy="2351.6" r="3.4"/>
<circle cx="611.5" cy="1772.7" r="3.4"/>
<circle cx="611.5" cy="2351.6" r="3.4"/>
<circle cx="626.05" cy="1772.7" r="3.4"/>
<circle cx="626.05" cy="2351.6" r="3.4"/>
<circle cx="640.59" cy="1772.7" r="3.4"/>
<circle cx="640.59" cy="2351.6" r="3.4"/>
<circle cx="655.13" cy="1772.7" r="3.4"/>
<circle cx="655.13" cy="2351.6" r="3.4"/>
<circle cx="669.67" cy="1772.7" r="3.4"/>
<circle cx="669.67" cy="2351.6" r="3.4"/>
<circle cx="684.22" cy="1772.7" r="3.4"/>
<circle cx="684.22" cy="2351.6" r="3.4"/>
<circle cx="698.76" cy="1772.7" r="3.4"/>
<circle cx="698.76" cy="2351.6" r="3.4"/>
<circle cx="713.3" cy="1772.7" r="3.4"/>
<circle cx="713.3" cy="2351.6" r="3.4"/>
<circle cx="233.4" cy="1785.86" r="3.4"/>
<circle cx="713.3" cy="1785.86" r="3.4"/>
<circle cx="233.4" cy="1799.01" r="3.4"/>
<circle cx="713.3" cy="1799.01" r="3.4"/>
<circle cx="233.4" cy="1812.17" r="3.4"/>
<circle cx="713.3" cy="1812.17" r="3.4"/>
<circle cx="233.4" cy="1825.33" r="3.4"/>
<circle cx="713.3" cy="1825.33" r="3.4"/>
<circle cx="233.4" cy="1838.48" r="3.4"/>
<circle cx="713.3" cy="1838.48" r="3.4"/>
<circle cx="233.4" cy="1851.64" r="3.4"/>
<circle cx="713.3" cy="1851.64" r="3.4"/>
<circle cx="233.4" cy="1864.8" r="3.4"/>
<circle cx="713.3" cy="1864.8" r="3.4"/>
<circle cx="233.4" cy="1877.95" r="3.4"/>
<circle cx="713.3" cy="1877.95" r="3.4"/>
<circle cx="233.4" cy="1891.11" r="3.4"/>
<circle cx="713.3" cy="1891.11" r="3.4"/>
<circle cx="233.4" cy="1904.27" r="3.4"/>
<circle cx="713.3" cy="1904.27" r="3.4"/>
<circle cx="233.4" cy="1917.42" r="3.4"/>
<circle cx="713.3" cy="1917.42" r="3.4"/>
<circle cx="233.4" cy="1930.58" r="3.4"/>
<circle cx="713.3" cy="1930.58" r="3.4"/>
<circle cx="233.4" cy="1943.74" r="3.4"/>
<circle cx="713.3" cy="1943.74" r="3.4"/>
<circle cx="233.4" cy="1956.9" r="3.4"/>
<circle cx="713.3" cy="1956.9" r="3.4"/>
<circle cx="233.4" cy="1970.05" r="3.4"/>
<circle cx="713.3" cy="1970.05" r="3.4"/>
<circle cx="233.4" cy="1983.21" r="3.4"/>
<circle cx="713.3" cy="1983.21" r="3.4"/>
<circle cx="233.4" cy="1996.37" r="3.4"/>
<circle cx="713.3" cy="1996.37" r="3.4"/>
<circle cx="233.4" cy="2009.52" r="3.4"/>
<circle cx="713.3" cy="2009.52" r="3.4"/>
<circle cx="233.4" cy="2022.68" r="3.4"/>
<circle cx="713.3" cy="2022.68" r="3.4"/>
<circle cx="233.4" cy="2035.84" r="3.4"/>
<circle cx="713.3" cy="2035.84" r="3.4"/>
<circle cx="233.4" cy="2048.99" r="3.4"/>
<circle cx="713.3" cy="2048.99" r="3.4"/>
<circle cx="233.4" cy="2062.15" r="3.4"/>
<circle cx="713.3" cy="2062.15" r="3.4"/>
<circle cx="233.4" cy="2075.31" r="3.4"/>
<circle cx="713.3" cy="2075.31" r="3.4"/>
<circle cx="233.4" cy="2088.46" r="3.4"/>
<circle cx="713.3" cy="2088.46" r="3.4"/>
<circle cx="233.4" cy="2101.62" r="3.4"/>
<circle cx="713.3" cy="2101.62" r="3.4"/>
<circle cx="233.4" cy="2114.78" r="3.4"/>
<circle cx="713.3" cy="2114.78" r="3.4"/>
<circle cx="233.4" cy="2127.93" r="3.4"/>
<circle cx="713.3" cy="2127.93" r="3.4"/>
<circle cx="233.4" cy="2141.09" r="3.4"/>
<circle cx="713.3" cy="2141.09" r="3.4"/>
<circle cx="233.4" cy="2154.25" r="3.4"/>
<circle cx="713.3" cy="2154.25" r="3.4"/>
<circle cx="233.4" cy="2167.4" r="3.4"/>
<circle cx="713.3" cy="2167.4" r="3.4"/>
<circle cx="233.4" cy="2180.56" r="3.4"/>
<circle cx="713.3" cy="2180.56" r="3.4"/>
<circle cx="233.4" cy="2193.72" r="3.4"/>
<circle cx="713.3" cy="2193.72" r="3.4"/>
<circle cx="233.4" cy="2206.88" r="3.4"/>
<circle cx="713.3" cy="2206.88" r="3.4"/>
<circle cx="233.4" cy="2220.03" r="3.4"/>
<circle cx="713.3" cy="2220.03" r="3.4"/>
<circle cx="233.4" cy="2233.19" r="3.4"/>
<circle cx="713.3" cy="2233.19" r="3.4"/>
<circle cx="233.4" cy="2246.35" r="3.4"/>
<circle cx="713.3" cy="2246.35" r="3.4"/>
<circle cx="233.4" cy="2259.5" r="3.4"/>
<circle cx="713.3" cy="2259.5" r="3.4"/>
<circle cx="233.4" cy="2272.66" r="3.4"/>
<circle cx="713.3" cy="2272.66" r="3.4"/>
<circle cx="233.4" cy="2285.82" r="3.4"/>
<circle cx="713.3" cy="2285.82" r="3.4"/>
<circle cx="233.4" cy="2298.97" r="3.4"/>
<circle cx="713.3" cy="2298.97" r="3.4"/>
<circle cx="233.4" cy="2312.13" r="3.4"/>
<circle cx="713.3" cy="2312.13" r="3.4"/>
<circle cx="233.4" cy="2325.29" r="3.4"/>
<circle cx="713.3" cy="2325.29" r="3.4"/>
<circle cx="233.4" cy="2338.44" r="3.4"/>
<circle cx="713.3" cy="2338.44" r="3.4"/>
</g>
<rect x="414.5" y="2129" width="88" height="147.5" fill="#000" stroke="#3d038f" stroke-width="2"/>
<rect x="549.5" y="1980.5" width="87.5" height="296" fill="#fff" stroke="#3d038f" stroke-width="2"/>
<line x1="458" y1="2081" x2="458" y2="2175.7" stroke="#3d038f" stroke-width="2" stroke-linecap="butt" />
<line x1="435" y1="2081" x2="481" y2="2081" stroke="#3d038f" stroke-width="2" stroke-linecap="butt" />
<line x1="435" y1="2175.7" x2="481" y2="2175.7" stroke="#3d038f" stroke-width="2" stroke-linecap="butt" />
<line x1="593.2" y1="1882.2" x2="593.2" y2="2078" stroke="#3d038f" stroke-width="2" stroke-linecap="butt" />
<line x1="570.7" y1="1882.2" x2="615.7" y2="1882.2" stroke="#3d038f" stroke-width="2" stroke-linecap="butt" />
<line x1="570.7" y1="2078" x2="615.7" y2="2078" stroke="#3d038f" stroke-width="2" stroke-linecap="butt" />
<path d="M451 2122.25L466 2122.25L458.5 2135.75Z" fill="#000" stroke="#000" stroke-width="2" stroke-linejoin="round"/>
<path d="M585.95 1973.95L600.55 1973.95L593.25 1987.05Z" fill="#fff" stroke="#000" stroke-width="2.4" stroke-linejoin="round"/>
<line x1="368.7" y1="1849.4" x2="368.7" y2="2278.8" stroke="#000" stroke-width="4.6" stroke-linecap="butt" />
<line x1="350" y1="2276.5" x2="682" y2="2276.5" stroke="#000" stroke-width="4.6" stroke-linecap="round" />
<text x="339.5" y="2288.67" font-size="34" font-weight="bold" font-style="normal" text-anchor="end" fill="#000" stroke="#000" stroke-width="0.7" stroke-linejoin="round" >0</text>
<line x1="350" y1="2134.9" x2="368.7" y2="2134.9" stroke="#000" stroke-width="4.6" stroke-linecap="round" />
<text x="339.5" y="2147.07" font-size="34" font-weight="bold" font-style="normal" text-anchor="end" fill="#000" stroke="#000" stroke-width="0.7" stroke-linejoin="round" >5</text>
<line x1="350" y1="1993.3" x2="368.7" y2="1993.3" stroke="#000" stroke-width="4.6" stroke-linecap="round" />
<text x="339.5" y="2005.47" font-size="34" font-weight="bold" font-style="normal" text-anchor="end" fill="#000" stroke="#000" stroke-width="0.7" stroke-linejoin="round" >10</text>
<line x1="350" y1="1851.7" x2="368.7" y2="1851.7" stroke="#000" stroke-width="4.6" stroke-linecap="round" />
<text x="339.5" y="1863.87" font-size="34" font-weight="bold" font-style="normal" text-anchor="end" fill="#000" stroke="#000" stroke-width="0.7" stroke-linejoin="round" >15</text>
<line x1="458" y1="2276.5" x2="458" y2="2294.5" stroke="#000" stroke-width="4.6" stroke-linecap="round" />
<line x1="593.2" y1="2276.5" x2="593.2" y2="2294.5" stroke="#000" stroke-width="4.6" stroke-linecap="round" />
<text x="455.5" y="2334" font-size="33.5" font-weight="bold" font-style="italic" text-anchor="middle" fill="#000" stroke="#000" stroke-width="0.5" stroke-linejoin="round">10A<tspan font-size="28.47" dx="-1.5" dy="-11.72">+/+</tspan></text>
<text x="594.7" y="2334" font-size="33.5" font-weight="bold" font-style="italic" text-anchor="middle" fill="#000" stroke="#000" stroke-width="0.5" stroke-linejoin="round">10A<tspan font-size="28.47" dx="-1.5" dy="-11.72">-/-</tspan></text>
<path d="M458 2056.3L458 1831.6L594 1831.6L594 1857" fill="none" stroke="#000" stroke-width="4.4" stroke-linecap="round" stroke-linejoin="miter"/>
<text x="525.8" y="1809.5" font-size="38" font-weight="normal" font-style="normal" text-anchor="middle" fill="#000" stroke="#000" stroke-width="0.4" stroke-linejoin="round" >ns</text>
<text transform="translate(279 2064.5) rotate(-90) scale(0.91 1)" font-size="40" font-weight="bold" font-style="normal" text-anchor="middle" fill="#000" stroke="#000" stroke-width="0.5" stroke-linejoin="round" >AUC</text>
<text transform="translate(484.8 1752.7) scale(1.01 1)" font-size="51.3" font-weight="bold" font-style="normal" text-anchor="middle" fill="#000" stroke="#000" stroke-width="0.8" stroke-linejoin="round" >VLDL (TG)</text>
<text x="163.7" y="1783.5" font-size="57" font-weight="bold" font-style="normal" text-anchor="start" fill="#000" stroke="#000" stroke-width="0.3" stroke-linejoin="round" >e</text>
</g>
<g id="panel-f">
<g fill="#000">
<circle cx="1039.7" cy="1772.7" r="3.4"/>
<circle cx="1039.7" cy="2351.6" r="3.4"/>
<circle cx="1054.16" cy="1772.7" r="3.4"/>
<circle cx="1054.16" cy="2351.6" r="3.4"/>
<circle cx="1068.61" cy="1772.7" r="3.4"/>
<circle cx="1068.61" cy="2351.6" r="3.4"/>
<circle cx="1083.07" cy="1772.7" r="3.4"/>
<circle cx="1083.07" cy="2351.6" r="3.4"/>
<circle cx="1097.52" cy="1772.7" r="3.4"/>
<circle cx="1097.52" cy="2351.6" r="3.4"/>
<circle cx="1111.98" cy="1772.7" r="3.4"/>
<circle cx="1111.98" cy="2351.6" r="3.4"/>
<circle cx="1126.44" cy="1772.7" r="3.4"/>
<circle cx="1126.44" cy="2351.6" r="3.4"/>
<circle cx="1140.89" cy="1772.7" r="3.4"/>
<circle cx="1140.89" cy="2351.6" r="3.4"/>
<circle cx="1155.35" cy="1772.7" r="3.4"/>
<circle cx="1155.35" cy="2351.6" r="3.4"/>
<circle cx="1169.8" cy="1772.7" r="3.4"/>
<circle cx="1169.8" cy="2351.6" r="3.4"/>
<circle cx="1184.26" cy="1772.7" r="3.4"/>
<circle cx="1184.26" cy="2351.6" r="3.4"/>
<circle cx="1198.71" cy="1772.7" r="3.4"/>
<circle cx="1198.71" cy="2351.6" r="3.4"/>
<circle cx="1213.17" cy="1772.7" r="3.4"/>
<circle cx="1213.17" cy="2351.6" r="3.4"/>
<circle cx="1227.63" cy="1772.7" r="3.4"/>
<circle cx="1227.63" cy="2351.6" r="3.4"/>
<circle cx="1242.08" cy="1772.7" r="3.4"/>
<circle cx="1242.08" cy="2351.6" r="3.4"/>
<circle cx="1256.54" cy="1772.7" r="3.4"/>
<circle cx="1256.54" cy="2351.6" r="3.4"/>
<circle cx="1270.99" cy="1772.7" r="3.4"/>
<circle cx="1270.99" cy="2351.6" r="3.4"/>
<circle cx="1285.45" cy="1772.7" r="3.4"/>
<circle cx="1285.45" cy="2351.6" r="3.4"/>
<circle cx="1299.91" cy="1772.7" r="3.4"/>
<circle cx="1299.91" cy="2351.6" r="3.4"/>
<circle cx="1314.36" cy="1772.7" r="3.4"/>
<circle cx="1314.36" cy="2351.6" r="3.4"/>
<circle cx="1328.82" cy="1772.7" r="3.4"/>
<circle cx="1328.82" cy="2351.6" r="3.4"/>
<circle cx="1343.27" cy="1772.7" r="3.4"/>
<circle cx="1343.27" cy="2351.6" r="3.4"/>
<circle cx="1357.73" cy="1772.7" r="3.4"/>
<circle cx="1357.73" cy="2351.6" r="3.4"/>
<circle cx="1372.19" cy="1772.7" r="3.4"/>
<circle cx="1372.19" cy="2351.6" r="3.4"/>
<circle cx="1386.64" cy="1772.7" r="3.4"/>
<circle cx="1386.64" cy="2351.6" r="3.4"/>
<circle cx="1401.1" cy="1772.7" r="3.4"/>
<circle cx="1401.1" cy="2351.6" r="3.4"/>
<circle cx="1415.55" cy="1772.7" r="3.4"/>
<circle cx="1415.55" cy="2351.6" r="3.4"/>
<circle cx="1430.01" cy="1772.7" r="3.4"/>
<circle cx="1430.01" cy="2351.6" r="3.4"/>
<circle cx="1444.46" cy="1772.7" r="3.4"/>
<circle cx="1444.46" cy="2351.6" r="3.4"/>
<circle cx="1458.92" cy="1772.7" r="3.4"/>
<circle cx="1458.92" cy="2351.6" r="3.4"/>
<circle cx="1473.38" cy="1772.7" r="3.4"/>
<circle cx="1473.38" cy="2351.6" r="3.4"/>
<circle cx="1487.83" cy="1772.7" r="3.4"/>
<circle cx="1487.83" cy="2351.6" r="3.4"/>
<circle cx="1502.29" cy="1772.7" r="3.4"/>
<circle cx="1502.29" cy="2351.6" r="3.4"/>
<circle cx="1516.74" cy="1772.7" r="3.4"/>
<circle cx="1516.74" cy="2351.6" r="3.4"/>
<circle cx="1531.2" cy="1772.7" r="3.4"/>
<circle cx="1531.2" cy="2351.6" r="3.4"/>
<circle cx="1039.7" cy="1785.86" r="3.4"/>
<circle cx="1531.2" cy="1785.86" r="3.4"/>
<circle cx="1039.7" cy="1799.01" r="3.4"/>
<circle cx="1531.2" cy="1799.01" r="3.4"/>
<circle cx="1039.7" cy="1812.17" r="3.4"/>
<circle cx="1531.2" cy="1812.17" r="3.4"/>
<circle cx="1039.7" cy="1825.33" r="3.4"/>
<circle cx="1531.2" cy="1825.33" r="3.4"/>
<circle cx="1039.7" cy="1838.48" r="3.4"/>
<circle cx="1531.2" cy="1838.48" r="3.4"/>
<circle cx="1039.7" cy="1851.64" r="3.4"/>
<circle cx="1531.2" cy="1851.64" r="3.4"/>
<circle cx="1039.7" cy="1864.8" r="3.4"/>
<circle cx="1531.2" cy="1864.8" r="3.4"/>
<circle cx="1039.7" cy="1877.95" r="3.4"/>
<circle cx="1531.2" cy="1877.95" r="3.4"/>
<circle cx="1039.7" cy="1891.11" r="3.4"/>
<circle cx="1531.2" cy="1891.11" r="3.4"/>
<circle cx="1039.7" cy="1904.27" r="3.4"/>
<circle cx="1531.2" cy="1904.27" r="3.4"/>
<circle cx="1039.7" cy="1917.42" r="3.4"/>
<circle cx="1531.2" cy="1917.42" r="3.4"/>
<circle cx="1039.7" cy="1930.58" r="3.4"/>
<circle cx="1531.2" cy="1930.58" r="3.4"/>
<circle cx="1039.7" cy="1943.74" r="3.4"/>
<circle cx="1531.2" cy="1943.74" r="3.4"/>
<circle cx="1039.7" cy="1956.9" r="3.4"/>
<circle cx="1531.2" cy="1956.9" r="3.4"/>
<circle cx="1039.7" cy="1970.05" r="3.4"/>
<circle cx="1531.2" cy="1970.05" r="3.4"/>
<circle cx="1039.7" cy="1983.21" r="3.4"/>
<circle cx="1531.2" cy="1983.21" r="3.4"/>
<circle cx="1039.7" cy="1996.37" r="3.4"/>
<circle cx="1531.2" cy="1996.37" r="3.4"/>
<circle cx="1039.7" cy="2009.52" r="3.4"/>
<circle cx="1531.2" cy="2009.52" r="3.4"/>
<circle cx="1039.7" cy="2022.68" r="3.4"/>
<circle cx="1531.2" cy="2022.68" r="3.4"/>
<circle cx="1039.7" cy="2035.84" r="3.4"/>
<circle cx="1531.2" cy="2035.84" r="3.4"/>
<circle cx="1039.7" cy="2048.99" r="3.4"/>
<circle cx="1531.2" cy="2048.99" r="3.4"/>
<circle cx="1039.7" cy="2062.15" r="3.4"/>
<circle cx="1531.2" cy="2062.15" r="3.4"/>
<circle cx="1039.7" cy="2075.31" r="3.4"/>
<circle cx="1531.2" cy="2075.31" r="3.4"/>
<circle cx="1039.7" cy="2088.46" r="3.4"/>
<circle cx="1531.2" cy="2088.46" r="3.4"/>
<circle cx="1039.7" cy="2101.62" r="3.4"/>
<circle cx="1531.2" cy="2101.62" r="3.4"/>
<circle cx="1039.7" cy="2114.78" r="3.4"/>
<circle cx="1531.2" cy="2114.78" r="3.4"/>
<circle cx="1039.7" cy="2127.93" r="3.4"/>
<circle cx="1531.2" cy="2127.93" r="3.4"/>
<circle cx="1039.7" cy="2141.09" r="3.4"/>
<circle cx="1531.2" cy="2141.09" r="3.4"/>
<circle cx="1039.7" cy="2154.25" r="3.4"/>
<circle cx="1531.2" cy="2154.25" r="3.4"/>
<circle cx="1039.7" cy="2167.4" r="3.4"/>
<circle cx="1531.2" cy="2167.4" r="3.4"/>
<circle cx="1039.7" cy="2180.56" r="3.4"/>
<circle cx="1531.2" cy="2180.56" r="3.4"/>
<circle cx="1039.7" cy="2193.72" r="3.4"/>
<circle cx="1531.2" cy="2193.72" r="3.4"/>
<circle cx="1039.7" cy="2206.88" r="3.4"/>
<circle cx="1531.2" cy="2206.88" r="3.4"/>
<circle cx="1039.7" cy="2220.03" r="3.4"/>
<circle cx="1531.2" cy="2220.03" r="3.4"/>
<circle cx="1039.7" cy="2233.19" r="3.4"/>
<circle cx="1531.2" cy="2233.19" r="3.4"/>
<circle cx="1039.7" cy="2246.35" r="3.4"/>
<circle cx="1531.2" cy="2246.35" r="3.4"/>
<circle cx="1039.7" cy="2259.5" r="3.4"/>
<circle cx="1531.2" cy="2259.5" r="3.4"/>
<circle cx="1039.7" cy="2272.66" r="3.4"/>
<circle cx="1531.2" cy="2272.66" r="3.4"/>
<circle cx="1039.7" cy="2285.82" r="3.4"/>
<circle cx="1531.2" cy="2285.82" r="3.4"/>
<circle cx="1039.7" cy="2298.97" r="3.4"/>
<circle cx="1531.2" cy="2298.97" r="3.4"/>
<circle cx="1039.7" cy="2312.13" r="3.4"/>
<circle cx="1531.2" cy="2312.13" r="3.4"/>
<circle cx="1039.7" cy="2325.29" r="3.4"/>
<circle cx="1531.2" cy="2325.29" r="3.4"/>
<circle cx="1039.7" cy="2338.44" r="3.4"/>
<circle cx="1531.2" cy="2338.44" r="3.4"/>
</g>
<rect x="1235.5" y="2081" width="83.7" height="194.4" fill="#000" stroke="#008b8d" stroke-width="2"/>
<rect x="1365.5" y="2008.6" width="84.5" height="266.8" fill="#fff" stroke="#008b8d" stroke-width="2"/>
<line x1="1276.7" y1="2067.6" x2="1276.7" y2="2092" stroke="#008b8d" stroke-width="2" stroke-linecap="butt" />
<line x1="1254.7" y1="2067.6" x2="1298.7" y2="2067.6" stroke="#008b8d" stroke-width="2" stroke-linecap="butt" />
<line x1="1254.7" y1="2092" x2="1298.7" y2="2092" stroke="#008b8d" stroke-width="2" stroke-linecap="butt" />
<line x1="1407.3" y1="1966.5" x2="1407.3" y2="2049" stroke="#008b8d" stroke-width="2" stroke-linecap="butt" />
<line x1="1385.3" y1="1966.5" x2="1429.3" y2="1966.5" stroke="#008b8d" stroke-width="2" stroke-linecap="butt" />
<line x1="1385.3" y1="2049" x2="1429.3" y2="2049" stroke="#008b8d" stroke-width="2" stroke-linecap="butt" />
<path d="M1269.85 2074.25L1284.85 2074.25L1277.35 2087.75Z" fill="#000" stroke="#000" stroke-width="2" stroke-linejoin="round"/>
<path d="M1400.45 2002.05L1415.05 2002.05L1407.75 2015.15Z" fill="#fff" stroke="#000" stroke-width="2.4" stroke-linejoin="round"/>
<line x1="1190.7" y1="1829.3" x2="1190.7" y2="2277.7" stroke="#000" stroke-width="4.6" stroke-linecap="butt" />
<line x1="1173" y1="2275.4" x2="1492.5" y2="2275.4" stroke="#000" stroke-width="4.6" stroke-linecap="round" />
<text x="1162.6" y="2287.21" font-size="33" font-weight="bold" font-style="normal" text-anchor="end" fill="#000" stroke="#000" stroke-width="0.7" stroke-linejoin="round" >0</text>
<line x1="1173" y1="2127.47" x2="1190.7" y2="2127.47" stroke="#000" stroke-width="4.6" stroke-linecap="round" />
<text x="1162.6" y="2139.28" font-size="33" font-weight="bold" font-style="normal" text-anchor="end" fill="#000" stroke="#000" stroke-width="0.7" stroke-linejoin="round" >50</text>
<line x1="1173" y1="1979.53" x2="1190.7" y2="1979.53" stroke="#000" stroke-width="4.6" stroke-linecap="round" />
<text x="1162.6" y="1991.35" font-size="33" font-weight="bold" font-style="normal" text-anchor="end" fill="#000" stroke="#000" stroke-width="0.7" stroke-linejoin="round" >100</text>
<line x1="1173" y1="1831.6" x2="1190.7" y2="1831.6" stroke="#000" stroke-width="4.6" stroke-linecap="round" />
<text x="1162.6" y="1843.41" font-size="33" font-weight="bold" font-style="normal" text-anchor="end" fill="#000" stroke="#000" stroke-width="0.7" stroke-linejoin="round" >150</text>
<line x1="1276.7" y1="2275.4" x2="1276.7" y2="2293.4" stroke="#000" stroke-width="4.6" stroke-linecap="round" />
<line x1="1407.3" y1="2275.4" x2="1407.3" y2="2293.4" stroke="#000" stroke-width="4.6" stroke-linecap="round" />
<text x="1274.2" y="2334" font-size="33.5" font-weight="bold" font-style="italic" text-anchor="middle" fill="#000" stroke="#000" stroke-width="0.5" stroke-linejoin="round">10A<tspan font-size="28.47" dx="-1.5" dy="-11.72">+/+</tspan></text>
<text x="1408.8" y="2334" font-size="33.5" font-weight="bold" font-style="italic" text-anchor="middle" fill="#000" stroke="#000" stroke-width="0.5" stroke-linejoin="round">10A<tspan font-size="28.47" dx="-1.5" dy="-11.72">-/-</tspan></text>
<path d="M1276.7 2041.2L1276.7 1912.4L1408.3 1912.4L1408.3 1940.5" fill="none" stroke="#000" stroke-width="4.4" stroke-linecap="round" stroke-linejoin="miter"/>
<text x="1341.6" y="1892" font-size="36.5" font-weight="normal" font-style="normal" text-anchor="middle" fill="#000" stroke="#000" stroke-width="0.4" stroke-linejoin="round" >0.0517</text>
<text transform="translate(1083 2053.5) rotate(-90) scale(0.91 1)" font-size="40" font-weight="bold" font-style="normal" text-anchor="middle" fill="#000" stroke="#000" stroke-width="0.5" stroke-linejoin="round" >AUC</text>
<text transform="translate(1284.3 1751.7) scale(1 1)" font-size="51.9" font-weight="bold" font-style="normal" text-anchor="middle" fill="#000" stroke="#000" stroke-width="0.8" stroke-linejoin="round" >HDL (Cholesterol)</text>
<text x="989" y="1783.5" font-size="57" font-weight="bold" font-style="normal" text-anchor="start" fill="#000" stroke="#000" stroke-width="0.3" stroke-linejoin="round" >f</text>
</g>
</svg>
</body>
</html>
